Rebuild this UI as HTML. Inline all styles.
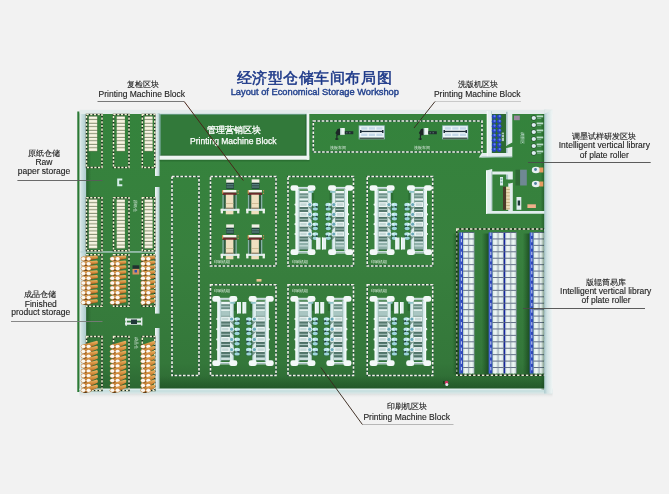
<!DOCTYPE html>
<html><head><meta charset="utf-8">
<style>
html,body{margin:0;padding:0;background:#f2f2f2;width:669px;height:494px;overflow:hidden}
svg{display:block;font-family:"Liberation Sans",sans-serif;will-change:transform}
</style></head><body>
<svg width="669" height="494" viewBox="0 0 669 494">
<defs>
 <linearGradient id="floor" x1="0" y1="0" x2="0" y2="1">
  <stop offset="0" stop-color="#34833c"/>
  <stop offset="0.5" stop-color="#38803e"/>
  <stop offset="0.9" stop-color="#34773a"/>
  <stop offset="1" stop-color="#2b6631"/>
 </linearGradient>
 <linearGradient id="rwall" x1="0" y1="0" x2="1" y2="0">
  <stop offset="0" stop-color="#a9c8cc"/>
  <stop offset="0.35" stop-color="#d2e3e4"/>
  <stop offset="1" stop-color="#f0f5f5"/>
 </linearGradient>
 <linearGradient id="lwall" x1="0" y1="0" x2="1" y2="0">
  <stop offset="0" stop-color="#eef3f3"/>
  <stop offset="0.25" stop-color="#cfe2e3"/>
  <stop offset="1" stop-color="#aecbce"/>
 </linearGradient>
 <linearGradient id="vwall" x1="0" y1="0" x2="1" y2="0">
  <stop offset="0" stop-color="#f2f6f6"/>
  <stop offset="0.5" stop-color="#d6e6e7"/>
  <stop offset="1" stop-color="#a9c6c9"/>
 </linearGradient>
 <linearGradient id="rshadow" x1="0" y1="0" x2="1" y2="0">
  <stop offset="0" stop-color="#1a4a20" stop-opacity="0"/>
  <stop offset="1" stop-color="#143e1a" stop-opacity="0.75"/>
 </linearGradient>
 <linearGradient id="lshadow" x1="0" y1="0" x2="1" y2="0">
  <stop offset="0" stop-color="#143e1a" stop-opacity="0.45"/>
  <stop offset="1" stop-color="#143e1a" stop-opacity="0"/>
 </linearGradient>
 <linearGradient id="bshadow" x1="0" y1="0" x2="0" y2="1">
  <stop offset="0" stop-color="#d8dcdc"/>
  <stop offset="1" stop-color="#f2f2f2" stop-opacity="0"/>
 </linearGradient>
 <linearGradient id="fdark" x1="0" y1="0" x2="0" y2="1">
  <stop offset="0" stop-color="#1a4a20" stop-opacity="0"/>
  <stop offset="1" stop-color="#1a4a20" stop-opacity="0.5"/>
 </linearGradient>
 <linearGradient id="rollo" x1="0" y1="0" x2="0" y2="1">
  <stop offset="0" stop-color="#f0b868"/>
  <stop offset="0.5" stop-color="#cf8838"/>
  <stop offset="1" stop-color="#7a4a1c"/>
 </linearGradient>

</defs>
<rect x="0.00" y="0.00" width="669.00" height="494.00" fill="#f2f2f2" />
<text x="314.4" y="83.3" font-size="15.4" letter-spacing="0.55" fill="#1c3888" stroke="#1c3888" stroke-width="0.5" text-anchor="middle">经济型仓储车间布局图</text>
<text x="314.8" y="95" font-size="9.3" fill="#24438f" stroke="#24438f" stroke-width="0.42" text-anchor="middle">Layout of Economical Storage Workshop</text>
<rect x="79.50" y="113.00" width="466.00" height="278.00" fill="url(#floor)" />
<rect x="77.30" y="111.50" width="2.30" height="280.50" fill="#2c7a35" />
<rect x="79.50" y="109.80" width="473.00" height="4.20" fill="#e3ebeb" />
<rect x="79.50" y="393.50" width="473.00" height="5.00" fill="url(#bshadow)" />
<rect x="159.50" y="376.00" width="385.00" height="12.70" fill="url(#fdark)" />
<rect x="79.50" y="388.70" width="473.00" height="4.80" fill="#c9e0e0" />
<rect x="79.50" y="388.70" width="473.00" height="1.00" fill="#e6f2f2" />
<rect x="79.50" y="392.50" width="473.00" height="1.00" fill="#dde8e8" />
<rect x="79.60" y="114.00" width="6.60" height="276.00" fill="url(#lwall)" />
<rect x="86.20" y="114.00" width="5.00" height="276.00" fill="url(#lshadow)" />
<rect x="80.50" y="251.30" width="75.00" height="1.30" fill="#b9d3d4" />
<rect x="155.00" y="113.00" width="4.60" height="63.00" fill="url(#vwall)" />
<rect x="155.00" y="187.00" width="4.60" height="126.60" fill="url(#vwall)" />
<rect x="155.00" y="328.00" width="4.60" height="61.00" fill="url(#vwall)" />
<rect x="159.50" y="113.80" width="147.50" height="42.00" fill="#8fb8b8" />
<rect x="160.50" y="114.50" width="145.80" height="41.00" fill="#32793a" />
<rect x="160.50" y="154.80" width="145.80" height="1.00" fill="#285f2e" />
<rect x="305.30" y="114.50" width="1.00" height="41.00" fill="#2a6630" />
<rect x="159.50" y="155.70" width="149.70" height="4.10" fill="#eef4f2" />
<rect x="159.50" y="159.80" width="150.00" height="1.60" fill="#1f5a26" opacity="0.45"/>
<rect x="306.80" y="113.00" width="2.50" height="46.80" fill="#eef4f2" />
<text x="233.5" y="133" font-size="8.5" fill="#ffffff" stroke="#ffffff" stroke-width="0.3" text-anchor="middle">管理营销区块</text>
<text x="233.3" y="143.8" font-size="8.5" fill="#ffffff" stroke="#ffffff" stroke-width="0.25" text-anchor="middle">Printing Machine Block</text>
<g fill="none" stroke-width="1.6">
<rect x="313.3" y="121" width="168.7" height="31" stroke="#234a3a" stroke-width="1.4"/>
<rect x="313.3" y="121" width="168.7" height="31" stroke="#f4f4ea" stroke-dasharray="2.6 1.6"/>
<rect x="172" y="176.5" width="27" height="199" stroke="#234a3a" stroke-width="1.4"/>
<rect x="172" y="176.5" width="27" height="199" stroke="#f4f4ea" stroke-dasharray="2.6 1.6"/>
<rect x="210.5" y="176.5" width="65.5" height="89.5" stroke="#234a3a" stroke-width="1.4"/>
<rect x="210.5" y="176.5" width="65.5" height="89.5" stroke="#f4f4ea" stroke-dasharray="2.6 1.6"/>
<rect x="288" y="176.5" width="65.5" height="89.5" stroke="#234a3a" stroke-width="1.4"/>
<rect x="288" y="176.5" width="65.5" height="89.5" stroke="#f4f4ea" stroke-dasharray="2.6 1.6"/>
<rect x="367.2" y="176.5" width="65.5" height="89.5" stroke="#234a3a" stroke-width="1.4"/>
<rect x="367.2" y="176.5" width="65.5" height="89.5" stroke="#f4f4ea" stroke-dasharray="2.6 1.6"/>
<rect x="210.5" y="284.7" width="65.5" height="90.8" stroke="#234a3a" stroke-width="1.4"/>
<rect x="210.5" y="284.7" width="65.5" height="90.8" stroke="#f4f4ea" stroke-dasharray="2.6 1.6"/>
<rect x="288" y="284.7" width="65.5" height="90.8" stroke="#234a3a" stroke-width="1.4"/>
<rect x="288" y="284.7" width="65.5" height="90.8" stroke="#f4f4ea" stroke-dasharray="2.6 1.6"/>
<rect x="367.2" y="284.7" width="65.5" height="90.8" stroke="#234a3a" stroke-width="1.4"/>
<rect x="367.2" y="284.7" width="65.5" height="90.8" stroke="#f4f4ea" stroke-dasharray="2.6 1.6"/>
</g>
<g fill="none" stroke-width="1.5">
<rect x="456.8" y="229" width="88" height="146.3" stroke="#1a2a1a"/><rect x="456.8" y="229" width="88" height="146.3" stroke="#f2f2dc" stroke-dasharray="2.4 2"/>
<rect x="86.5" y="114.5" width="15.5" height="53" stroke="#1a2e1c"/>
<rect x="86.5" y="114.5" width="15.5" height="53" stroke="#f0f0d0" stroke-dasharray="2.2 1.5"/>
<rect x="113.5" y="114.5" width="15.5" height="53" stroke="#1a2e1c"/>
<rect x="113.5" y="114.5" width="15.5" height="53" stroke="#f0f0d0" stroke-dasharray="2.2 1.5"/>
<rect x="142.3" y="114.5" width="12.5" height="53" stroke="#1a2e1c"/>
<rect x="142.3" y="114.5" width="12.5" height="53" stroke="#f0f0d0" stroke-dasharray="2.2 1.5"/>
<rect x="86.5" y="197.7" width="15.5" height="53" stroke="#1a2e1c"/>
<rect x="86.5" y="197.7" width="15.5" height="53" stroke="#f0f0d0" stroke-dasharray="2.2 1.5"/>
<rect x="113.5" y="197.7" width="15.5" height="53" stroke="#1a2e1c"/>
<rect x="113.5" y="197.7" width="15.5" height="53" stroke="#f0f0d0" stroke-dasharray="2.2 1.5"/>
<rect x="142.3" y="197.7" width="12.5" height="53" stroke="#1a2e1c"/>
<rect x="142.3" y="197.7" width="12.5" height="53" stroke="#f0f0d0" stroke-dasharray="2.2 1.5"/>
<rect x="86.5" y="254.8" width="15.5" height="51.5" stroke="#1a2e1c"/>
<rect x="86.5" y="254.8" width="15.5" height="51.5" stroke="#f0f0d0" stroke-dasharray="2.2 1.5"/>
<rect x="113.5" y="254.8" width="15.5" height="51.5" stroke="#1a2e1c"/>
<rect x="113.5" y="254.8" width="15.5" height="51.5" stroke="#f0f0d0" stroke-dasharray="2.2 1.5"/>
<rect x="142.3" y="254.8" width="12.5" height="51.5" stroke="#1a2e1c"/>
<rect x="142.3" y="254.8" width="12.5" height="51.5" stroke="#f0f0d0" stroke-dasharray="2.2 1.5"/>
<rect x="86.5" y="336.5" width="15.5" height="54" stroke="#1a2e1c"/>
<rect x="86.5" y="336.5" width="15.5" height="54" stroke="#f0f0d0" stroke-dasharray="2.2 1.5"/>
<rect x="113.5" y="336.5" width="15.5" height="54" stroke="#1a2e1c"/>
<rect x="113.5" y="336.5" width="15.5" height="54" stroke="#f0f0d0" stroke-dasharray="2.2 1.5"/>
<rect x="142.3" y="336.5" width="12.5" height="54" stroke="#1a2e1c"/>
<rect x="142.3" y="336.5" width="12.5" height="54" stroke="#f0f0d0" stroke-dasharray="2.2 1.5"/>
</g>
<rect x="88.80" y="116.20" width="8.40" height="35.20" fill="#5a6a50" />
<rect x="88.80" y="116.50" width="8.40" height="2.90" fill="#e9e6cc" />
<rect x="89.30" y="117.00" width="7.40" height="1.20" fill="#f8f7ea" />
<rect x="88.80" y="120.02" width="8.40" height="2.90" fill="#e9e6cc" />
<rect x="89.30" y="120.52" width="7.40" height="1.20" fill="#f8f7ea" />
<rect x="88.80" y="123.54" width="8.40" height="2.90" fill="#e9e6cc" />
<rect x="89.30" y="124.04" width="7.40" height="1.20" fill="#f8f7ea" />
<rect x="88.80" y="127.06" width="8.40" height="2.90" fill="#e9e6cc" />
<rect x="89.30" y="127.56" width="7.40" height="1.20" fill="#f8f7ea" />
<rect x="88.80" y="130.58" width="8.40" height="2.90" fill="#e9e6cc" />
<rect x="89.30" y="131.08" width="7.40" height="1.20" fill="#f8f7ea" />
<rect x="88.80" y="134.10" width="8.40" height="2.90" fill="#e9e6cc" />
<rect x="89.30" y="134.60" width="7.40" height="1.20" fill="#f8f7ea" />
<rect x="88.80" y="137.62" width="8.40" height="2.90" fill="#e9e6cc" />
<rect x="89.30" y="138.12" width="7.40" height="1.20" fill="#f8f7ea" />
<rect x="88.80" y="141.14" width="8.40" height="2.90" fill="#e9e6cc" />
<rect x="89.30" y="141.64" width="7.40" height="1.20" fill="#f8f7ea" />
<rect x="88.80" y="144.66" width="8.40" height="2.90" fill="#e9e6cc" />
<rect x="89.30" y="145.16" width="7.40" height="1.20" fill="#f8f7ea" />
<rect x="88.80" y="148.18" width="8.40" height="2.90" fill="#e9e6cc" />
<rect x="89.30" y="148.68" width="7.40" height="1.20" fill="#f8f7ea" />
<rect x="116.70" y="116.20" width="8.20" height="35.20" fill="#5a6a50" />
<rect x="116.70" y="116.50" width="8.20" height="2.90" fill="#e9e6cc" />
<rect x="117.20" y="117.00" width="7.20" height="1.20" fill="#f8f7ea" />
<rect x="116.70" y="120.02" width="8.20" height="2.90" fill="#e9e6cc" />
<rect x="117.20" y="120.52" width="7.20" height="1.20" fill="#f8f7ea" />
<rect x="116.70" y="123.54" width="8.20" height="2.90" fill="#e9e6cc" />
<rect x="117.20" y="124.04" width="7.20" height="1.20" fill="#f8f7ea" />
<rect x="116.70" y="127.06" width="8.20" height="2.90" fill="#e9e6cc" />
<rect x="117.20" y="127.56" width="7.20" height="1.20" fill="#f8f7ea" />
<rect x="116.70" y="130.58" width="8.20" height="2.90" fill="#e9e6cc" />
<rect x="117.20" y="131.08" width="7.20" height="1.20" fill="#f8f7ea" />
<rect x="116.70" y="134.10" width="8.20" height="2.90" fill="#e9e6cc" />
<rect x="117.20" y="134.60" width="7.20" height="1.20" fill="#f8f7ea" />
<rect x="116.70" y="137.62" width="8.20" height="2.90" fill="#e9e6cc" />
<rect x="117.20" y="138.12" width="7.20" height="1.20" fill="#f8f7ea" />
<rect x="116.70" y="141.14" width="8.20" height="2.90" fill="#e9e6cc" />
<rect x="117.20" y="141.64" width="7.20" height="1.20" fill="#f8f7ea" />
<rect x="116.70" y="144.66" width="8.20" height="2.90" fill="#e9e6cc" />
<rect x="117.20" y="145.16" width="7.20" height="1.20" fill="#f8f7ea" />
<rect x="116.70" y="148.18" width="8.20" height="2.90" fill="#e9e6cc" />
<rect x="117.20" y="148.68" width="7.20" height="1.20" fill="#f8f7ea" />
<rect x="144.60" y="116.20" width="8.00" height="35.20" fill="#5a6a50" />
<rect x="144.60" y="116.50" width="8.00" height="2.90" fill="#e9e6cc" />
<rect x="145.10" y="117.00" width="7.00" height="1.20" fill="#f8f7ea" />
<rect x="144.60" y="120.02" width="8.00" height="2.90" fill="#e9e6cc" />
<rect x="145.10" y="120.52" width="7.00" height="1.20" fill="#f8f7ea" />
<rect x="144.60" y="123.54" width="8.00" height="2.90" fill="#e9e6cc" />
<rect x="145.10" y="124.04" width="7.00" height="1.20" fill="#f8f7ea" />
<rect x="144.60" y="127.06" width="8.00" height="2.90" fill="#e9e6cc" />
<rect x="145.10" y="127.56" width="7.00" height="1.20" fill="#f8f7ea" />
<rect x="144.60" y="130.58" width="8.00" height="2.90" fill="#e9e6cc" />
<rect x="145.10" y="131.08" width="7.00" height="1.20" fill="#f8f7ea" />
<rect x="144.60" y="134.10" width="8.00" height="2.90" fill="#e9e6cc" />
<rect x="145.10" y="134.60" width="7.00" height="1.20" fill="#f8f7ea" />
<rect x="144.60" y="137.62" width="8.00" height="2.90" fill="#e9e6cc" />
<rect x="145.10" y="138.12" width="7.00" height="1.20" fill="#f8f7ea" />
<rect x="144.60" y="141.14" width="8.00" height="2.90" fill="#e9e6cc" />
<rect x="145.10" y="141.64" width="7.00" height="1.20" fill="#f8f7ea" />
<rect x="144.60" y="144.66" width="8.00" height="2.90" fill="#e9e6cc" />
<rect x="145.10" y="145.16" width="7.00" height="1.20" fill="#f8f7ea" />
<rect x="144.60" y="148.18" width="8.00" height="2.90" fill="#e9e6cc" />
<rect x="145.10" y="148.68" width="7.00" height="1.20" fill="#f8f7ea" />
<rect x="88.80" y="199.30" width="8.40" height="49.28" fill="#5a6a50" />
<rect x="88.80" y="199.60" width="8.40" height="2.90" fill="#e9e6cc" />
<rect x="89.30" y="200.10" width="7.40" height="1.20" fill="#f8f7ea" />
<rect x="88.80" y="203.12" width="8.40" height="2.90" fill="#e9e6cc" />
<rect x="89.30" y="203.62" width="7.40" height="1.20" fill="#f8f7ea" />
<rect x="88.80" y="206.64" width="8.40" height="2.90" fill="#e9e6cc" />
<rect x="89.30" y="207.14" width="7.40" height="1.20" fill="#f8f7ea" />
<rect x="88.80" y="210.16" width="8.40" height="2.90" fill="#e9e6cc" />
<rect x="89.30" y="210.66" width="7.40" height="1.20" fill="#f8f7ea" />
<rect x="88.80" y="213.68" width="8.40" height="2.90" fill="#e9e6cc" />
<rect x="89.30" y="214.18" width="7.40" height="1.20" fill="#f8f7ea" />
<rect x="88.80" y="217.20" width="8.40" height="2.90" fill="#e9e6cc" />
<rect x="89.30" y="217.70" width="7.40" height="1.20" fill="#f8f7ea" />
<rect x="88.80" y="220.72" width="8.40" height="2.90" fill="#e9e6cc" />
<rect x="89.30" y="221.22" width="7.40" height="1.20" fill="#f8f7ea" />
<rect x="88.80" y="224.24" width="8.40" height="2.90" fill="#e9e6cc" />
<rect x="89.30" y="224.74" width="7.40" height="1.20" fill="#f8f7ea" />
<rect x="88.80" y="227.76" width="8.40" height="2.90" fill="#e9e6cc" />
<rect x="89.30" y="228.26" width="7.40" height="1.20" fill="#f8f7ea" />
<rect x="88.80" y="231.28" width="8.40" height="2.90" fill="#e9e6cc" />
<rect x="89.30" y="231.78" width="7.40" height="1.20" fill="#f8f7ea" />
<rect x="88.80" y="234.80" width="8.40" height="2.90" fill="#e9e6cc" />
<rect x="89.30" y="235.30" width="7.40" height="1.20" fill="#f8f7ea" />
<rect x="88.80" y="238.32" width="8.40" height="2.90" fill="#e9e6cc" />
<rect x="89.30" y="238.82" width="7.40" height="1.20" fill="#f8f7ea" />
<rect x="88.80" y="241.84" width="8.40" height="2.90" fill="#e9e6cc" />
<rect x="89.30" y="242.34" width="7.40" height="1.20" fill="#f8f7ea" />
<rect x="88.80" y="245.36" width="8.40" height="2.90" fill="#e9e6cc" />
<rect x="89.30" y="245.86" width="7.40" height="1.20" fill="#f8f7ea" />
<rect x="116.70" y="199.30" width="8.20" height="49.28" fill="#5a6a50" />
<rect x="116.70" y="199.60" width="8.20" height="2.90" fill="#e9e6cc" />
<rect x="117.20" y="200.10" width="7.20" height="1.20" fill="#f8f7ea" />
<rect x="116.70" y="203.12" width="8.20" height="2.90" fill="#e9e6cc" />
<rect x="117.20" y="203.62" width="7.20" height="1.20" fill="#f8f7ea" />
<rect x="116.70" y="206.64" width="8.20" height="2.90" fill="#e9e6cc" />
<rect x="117.20" y="207.14" width="7.20" height="1.20" fill="#f8f7ea" />
<rect x="116.70" y="210.16" width="8.20" height="2.90" fill="#e9e6cc" />
<rect x="117.20" y="210.66" width="7.20" height="1.20" fill="#f8f7ea" />
<rect x="116.70" y="213.68" width="8.20" height="2.90" fill="#e9e6cc" />
<rect x="117.20" y="214.18" width="7.20" height="1.20" fill="#f8f7ea" />
<rect x="116.70" y="217.20" width="8.20" height="2.90" fill="#e9e6cc" />
<rect x="117.20" y="217.70" width="7.20" height="1.20" fill="#f8f7ea" />
<rect x="116.70" y="220.72" width="8.20" height="2.90" fill="#e9e6cc" />
<rect x="117.20" y="221.22" width="7.20" height="1.20" fill="#f8f7ea" />
<rect x="116.70" y="224.24" width="8.20" height="2.90" fill="#e9e6cc" />
<rect x="117.20" y="224.74" width="7.20" height="1.20" fill="#f8f7ea" />
<rect x="116.70" y="227.76" width="8.20" height="2.90" fill="#e9e6cc" />
<rect x="117.20" y="228.26" width="7.20" height="1.20" fill="#f8f7ea" />
<rect x="116.70" y="231.28" width="8.20" height="2.90" fill="#e9e6cc" />
<rect x="117.20" y="231.78" width="7.20" height="1.20" fill="#f8f7ea" />
<rect x="116.70" y="234.80" width="8.20" height="2.90" fill="#e9e6cc" />
<rect x="117.20" y="235.30" width="7.20" height="1.20" fill="#f8f7ea" />
<rect x="116.70" y="238.32" width="8.20" height="2.90" fill="#e9e6cc" />
<rect x="117.20" y="238.82" width="7.20" height="1.20" fill="#f8f7ea" />
<rect x="116.70" y="241.84" width="8.20" height="2.90" fill="#e9e6cc" />
<rect x="117.20" y="242.34" width="7.20" height="1.20" fill="#f8f7ea" />
<rect x="116.70" y="245.36" width="8.20" height="2.90" fill="#e9e6cc" />
<rect x="117.20" y="245.86" width="7.20" height="1.20" fill="#f8f7ea" />
<rect x="144.60" y="199.30" width="8.00" height="49.28" fill="#5a6a50" />
<rect x="144.60" y="199.60" width="8.00" height="2.90" fill="#e9e6cc" />
<rect x="145.10" y="200.10" width="7.00" height="1.20" fill="#f8f7ea" />
<rect x="144.60" y="203.12" width="8.00" height="2.90" fill="#e9e6cc" />
<rect x="145.10" y="203.62" width="7.00" height="1.20" fill="#f8f7ea" />
<rect x="144.60" y="206.64" width="8.00" height="2.90" fill="#e9e6cc" />
<rect x="145.10" y="207.14" width="7.00" height="1.20" fill="#f8f7ea" />
<rect x="144.60" y="210.16" width="8.00" height="2.90" fill="#e9e6cc" />
<rect x="145.10" y="210.66" width="7.00" height="1.20" fill="#f8f7ea" />
<rect x="144.60" y="213.68" width="8.00" height="2.90" fill="#e9e6cc" />
<rect x="145.10" y="214.18" width="7.00" height="1.20" fill="#f8f7ea" />
<rect x="144.60" y="217.20" width="8.00" height="2.90" fill="#e9e6cc" />
<rect x="145.10" y="217.70" width="7.00" height="1.20" fill="#f8f7ea" />
<rect x="144.60" y="220.72" width="8.00" height="2.90" fill="#e9e6cc" />
<rect x="145.10" y="221.22" width="7.00" height="1.20" fill="#f8f7ea" />
<rect x="144.60" y="224.24" width="8.00" height="2.90" fill="#e9e6cc" />
<rect x="145.10" y="224.74" width="7.00" height="1.20" fill="#f8f7ea" />
<rect x="144.60" y="227.76" width="8.00" height="2.90" fill="#e9e6cc" />
<rect x="145.10" y="228.26" width="7.00" height="1.20" fill="#f8f7ea" />
<rect x="144.60" y="231.28" width="8.00" height="2.90" fill="#e9e6cc" />
<rect x="145.10" y="231.78" width="7.00" height="1.20" fill="#f8f7ea" />
<rect x="144.60" y="234.80" width="8.00" height="2.90" fill="#e9e6cc" />
<rect x="145.10" y="235.30" width="7.00" height="1.20" fill="#f8f7ea" />
<rect x="144.60" y="238.32" width="8.00" height="2.90" fill="#e9e6cc" />
<rect x="145.10" y="238.82" width="7.00" height="1.20" fill="#f8f7ea" />
<rect x="144.60" y="241.84" width="8.00" height="2.90" fill="#e9e6cc" />
<rect x="145.10" y="242.34" width="7.00" height="1.20" fill="#f8f7ea" />
<rect x="144.60" y="245.36" width="8.00" height="2.90" fill="#e9e6cc" />
<rect x="145.10" y="245.86" width="7.00" height="1.20" fill="#f8f7ea" />
<polygon points="83.3,259.8 97.8,257.6 97.8,258.4 86.3,261.4 83.3,261.4" fill="#5a3c1a"/>
<polygon points="83.3,256.6 97.0,255.6 97.8,256.4 97.8,258.6 88.3,260.6 83.3,260.6" fill="url(#rollo)"/>
<ellipse cx="83.3" cy="258.8" rx="2.6" ry="2.2" fill="#c88440"/>
<ellipse cx="88.6" cy="258.8" rx="2.6" ry="2.2" fill="#c88440"/>
<ellipse cx="83.3" cy="258.8" rx="2.1" ry="1.75" fill="#faf8f2"/>
<ellipse cx="88.6" cy="258.8" rx="2.1" ry="1.75" fill="#faf8f2"/>
<polygon points="83.3,264.7 97.8,262.5 97.8,263.3 86.3,266.3 83.3,266.3" fill="#5a3c1a"/>
<polygon points="83.3,261.5 97.0,260.5 97.8,261.3 97.8,263.5 88.3,265.5 83.3,265.5" fill="url(#rollo)"/>
<ellipse cx="83.3" cy="263.7" rx="2.6" ry="2.2" fill="#c88440"/>
<ellipse cx="88.6" cy="263.7" rx="2.6" ry="2.2" fill="#c88440"/>
<ellipse cx="83.3" cy="263.7" rx="2.1" ry="1.75" fill="#faf8f2"/>
<ellipse cx="88.6" cy="263.7" rx="2.1" ry="1.75" fill="#faf8f2"/>
<polygon points="83.3,269.5 97.8,267.3 97.8,268.1 86.3,271.1 83.3,271.1" fill="#5a3c1a"/>
<polygon points="83.3,266.3 97.0,265.3 97.8,266.1 97.8,268.3 88.3,270.3 83.3,270.3" fill="url(#rollo)"/>
<ellipse cx="83.3" cy="268.5" rx="2.6" ry="2.2" fill="#c88440"/>
<ellipse cx="88.6" cy="268.5" rx="2.6" ry="2.2" fill="#c88440"/>
<ellipse cx="83.3" cy="268.5" rx="2.1" ry="1.75" fill="#faf8f2"/>
<ellipse cx="88.6" cy="268.5" rx="2.1" ry="1.75" fill="#faf8f2"/>
<polygon points="83.3,274.4 97.8,272.2 97.8,273.0 86.3,276.0 83.3,276.0" fill="#5a3c1a"/>
<polygon points="83.3,271.2 97.0,270.2 97.8,271.0 97.8,273.2 88.3,275.2 83.3,275.2" fill="url(#rollo)"/>
<ellipse cx="83.3" cy="273.4" rx="2.6" ry="2.2" fill="#c88440"/>
<ellipse cx="88.6" cy="273.4" rx="2.6" ry="2.2" fill="#c88440"/>
<ellipse cx="83.3" cy="273.4" rx="2.1" ry="1.75" fill="#faf8f2"/>
<ellipse cx="88.6" cy="273.4" rx="2.1" ry="1.75" fill="#faf8f2"/>
<polygon points="83.3,279.2 97.8,277.0 97.8,277.8 86.3,280.8 83.3,280.8" fill="#5a3c1a"/>
<polygon points="83.3,276.0 97.0,275.0 97.8,275.8 97.8,278.0 88.3,280.0 83.3,280.0" fill="url(#rollo)"/>
<ellipse cx="83.3" cy="278.2" rx="2.6" ry="2.2" fill="#c88440"/>
<ellipse cx="88.6" cy="278.2" rx="2.6" ry="2.2" fill="#c88440"/>
<ellipse cx="83.3" cy="278.2" rx="2.1" ry="1.75" fill="#faf8f2"/>
<ellipse cx="88.6" cy="278.2" rx="2.1" ry="1.75" fill="#faf8f2"/>
<polygon points="83.3,284.1 97.8,281.9 97.8,282.7 86.3,285.7 83.3,285.7" fill="#5a3c1a"/>
<polygon points="83.3,280.9 97.0,279.9 97.8,280.7 97.8,282.9 88.3,284.9 83.3,284.9" fill="url(#rollo)"/>
<ellipse cx="83.3" cy="283.1" rx="2.6" ry="2.2" fill="#c88440"/>
<ellipse cx="88.6" cy="283.1" rx="2.6" ry="2.2" fill="#c88440"/>
<ellipse cx="83.3" cy="283.1" rx="2.1" ry="1.75" fill="#faf8f2"/>
<ellipse cx="88.6" cy="283.1" rx="2.1" ry="1.75" fill="#faf8f2"/>
<polygon points="83.3,288.9 97.8,286.7 97.8,287.5 86.3,290.5 83.3,290.5" fill="#5a3c1a"/>
<polygon points="83.3,285.7 97.0,284.7 97.8,285.5 97.8,287.7 88.3,289.7 83.3,289.7" fill="url(#rollo)"/>
<ellipse cx="83.3" cy="287.9" rx="2.6" ry="2.2" fill="#c88440"/>
<ellipse cx="88.6" cy="287.9" rx="2.6" ry="2.2" fill="#c88440"/>
<ellipse cx="83.3" cy="287.9" rx="2.1" ry="1.75" fill="#faf8f2"/>
<ellipse cx="88.6" cy="287.9" rx="2.1" ry="1.75" fill="#faf8f2"/>
<polygon points="83.3,293.8 97.8,291.6 97.8,292.4 86.3,295.4 83.3,295.4" fill="#5a3c1a"/>
<polygon points="83.3,290.6 97.0,289.6 97.8,290.4 97.8,292.6 88.3,294.6 83.3,294.6" fill="url(#rollo)"/>
<ellipse cx="83.3" cy="292.8" rx="2.6" ry="2.2" fill="#c88440"/>
<ellipse cx="88.6" cy="292.8" rx="2.6" ry="2.2" fill="#c88440"/>
<ellipse cx="83.3" cy="292.8" rx="2.1" ry="1.75" fill="#faf8f2"/>
<ellipse cx="88.6" cy="292.8" rx="2.1" ry="1.75" fill="#faf8f2"/>
<polygon points="83.3,298.6 97.8,296.4 97.8,297.2 86.3,300.2 83.3,300.2" fill="#5a3c1a"/>
<polygon points="83.3,295.4 97.0,294.4 97.8,295.2 97.8,297.4 88.3,299.4 83.3,299.4" fill="url(#rollo)"/>
<ellipse cx="83.3" cy="297.6" rx="2.6" ry="2.2" fill="#c88440"/>
<ellipse cx="88.6" cy="297.6" rx="2.6" ry="2.2" fill="#c88440"/>
<ellipse cx="83.3" cy="297.6" rx="2.1" ry="1.75" fill="#faf8f2"/>
<ellipse cx="88.6" cy="297.6" rx="2.1" ry="1.75" fill="#faf8f2"/>
<polygon points="83.3,303.4 97.8,301.2 97.8,302.1 86.3,305.1 83.3,305.1" fill="#5a3c1a"/>
<polygon points="83.3,300.2 97.0,299.2 97.8,300.1 97.8,302.2 88.3,304.2 83.3,304.2" fill="url(#rollo)"/>
<ellipse cx="83.3" cy="302.4" rx="2.6" ry="2.2" fill="#c88440"/>
<ellipse cx="88.6" cy="302.4" rx="2.6" ry="2.2" fill="#c88440"/>
<ellipse cx="83.3" cy="302.4" rx="2.1" ry="1.75" fill="#faf8f2"/>
<ellipse cx="88.6" cy="302.4" rx="2.1" ry="1.75" fill="#faf8f2"/>
<polygon points="112.3,259.8 126.2,257.6 126.2,258.4 115.3,261.4 112.3,261.4" fill="#5a3c1a"/>
<polygon points="112.3,256.6 125.4,255.6 126.2,256.4 126.2,258.6 117.3,260.6 112.3,260.6" fill="url(#rollo)"/>
<ellipse cx="112.3" cy="258.8" rx="2.6" ry="2.2" fill="#c88440"/>
<ellipse cx="117.6" cy="258.8" rx="2.6" ry="2.2" fill="#c88440"/>
<ellipse cx="112.3" cy="258.8" rx="2.1" ry="1.75" fill="#faf8f2"/>
<ellipse cx="117.6" cy="258.8" rx="2.1" ry="1.75" fill="#faf8f2"/>
<polygon points="112.3,264.7 126.2,262.5 126.2,263.3 115.3,266.3 112.3,266.3" fill="#5a3c1a"/>
<polygon points="112.3,261.5 125.4,260.5 126.2,261.3 126.2,263.5 117.3,265.5 112.3,265.5" fill="url(#rollo)"/>
<ellipse cx="112.3" cy="263.7" rx="2.6" ry="2.2" fill="#c88440"/>
<ellipse cx="117.6" cy="263.7" rx="2.6" ry="2.2" fill="#c88440"/>
<ellipse cx="112.3" cy="263.7" rx="2.1" ry="1.75" fill="#faf8f2"/>
<ellipse cx="117.6" cy="263.7" rx="2.1" ry="1.75" fill="#faf8f2"/>
<polygon points="112.3,269.5 126.2,267.3 126.2,268.1 115.3,271.1 112.3,271.1" fill="#5a3c1a"/>
<polygon points="112.3,266.3 125.4,265.3 126.2,266.1 126.2,268.3 117.3,270.3 112.3,270.3" fill="url(#rollo)"/>
<ellipse cx="112.3" cy="268.5" rx="2.6" ry="2.2" fill="#c88440"/>
<ellipse cx="117.6" cy="268.5" rx="2.6" ry="2.2" fill="#c88440"/>
<ellipse cx="112.3" cy="268.5" rx="2.1" ry="1.75" fill="#faf8f2"/>
<ellipse cx="117.6" cy="268.5" rx="2.1" ry="1.75" fill="#faf8f2"/>
<polygon points="112.3,274.4 126.2,272.2 126.2,273.0 115.3,276.0 112.3,276.0" fill="#5a3c1a"/>
<polygon points="112.3,271.2 125.4,270.2 126.2,271.0 126.2,273.2 117.3,275.2 112.3,275.2" fill="url(#rollo)"/>
<ellipse cx="112.3" cy="273.4" rx="2.6" ry="2.2" fill="#c88440"/>
<ellipse cx="117.6" cy="273.4" rx="2.6" ry="2.2" fill="#c88440"/>
<ellipse cx="112.3" cy="273.4" rx="2.1" ry="1.75" fill="#faf8f2"/>
<ellipse cx="117.6" cy="273.4" rx="2.1" ry="1.75" fill="#faf8f2"/>
<polygon points="112.3,279.2 126.2,277.0 126.2,277.8 115.3,280.8 112.3,280.8" fill="#5a3c1a"/>
<polygon points="112.3,276.0 125.4,275.0 126.2,275.8 126.2,278.0 117.3,280.0 112.3,280.0" fill="url(#rollo)"/>
<ellipse cx="112.3" cy="278.2" rx="2.6" ry="2.2" fill="#c88440"/>
<ellipse cx="117.6" cy="278.2" rx="2.6" ry="2.2" fill="#c88440"/>
<ellipse cx="112.3" cy="278.2" rx="2.1" ry="1.75" fill="#faf8f2"/>
<ellipse cx="117.6" cy="278.2" rx="2.1" ry="1.75" fill="#faf8f2"/>
<polygon points="112.3,284.1 126.2,281.9 126.2,282.7 115.3,285.7 112.3,285.7" fill="#5a3c1a"/>
<polygon points="112.3,280.9 125.4,279.9 126.2,280.7 126.2,282.9 117.3,284.9 112.3,284.9" fill="url(#rollo)"/>
<ellipse cx="112.3" cy="283.1" rx="2.6" ry="2.2" fill="#c88440"/>
<ellipse cx="117.6" cy="283.1" rx="2.6" ry="2.2" fill="#c88440"/>
<ellipse cx="112.3" cy="283.1" rx="2.1" ry="1.75" fill="#faf8f2"/>
<ellipse cx="117.6" cy="283.1" rx="2.1" ry="1.75" fill="#faf8f2"/>
<polygon points="112.3,288.9 126.2,286.7 126.2,287.5 115.3,290.5 112.3,290.5" fill="#5a3c1a"/>
<polygon points="112.3,285.7 125.4,284.7 126.2,285.5 126.2,287.7 117.3,289.7 112.3,289.7" fill="url(#rollo)"/>
<ellipse cx="112.3" cy="287.9" rx="2.6" ry="2.2" fill="#c88440"/>
<ellipse cx="117.6" cy="287.9" rx="2.6" ry="2.2" fill="#c88440"/>
<ellipse cx="112.3" cy="287.9" rx="2.1" ry="1.75" fill="#faf8f2"/>
<ellipse cx="117.6" cy="287.9" rx="2.1" ry="1.75" fill="#faf8f2"/>
<polygon points="112.3,293.8 126.2,291.6 126.2,292.4 115.3,295.4 112.3,295.4" fill="#5a3c1a"/>
<polygon points="112.3,290.6 125.4,289.6 126.2,290.4 126.2,292.6 117.3,294.6 112.3,294.6" fill="url(#rollo)"/>
<ellipse cx="112.3" cy="292.8" rx="2.6" ry="2.2" fill="#c88440"/>
<ellipse cx="117.6" cy="292.8" rx="2.6" ry="2.2" fill="#c88440"/>
<ellipse cx="112.3" cy="292.8" rx="2.1" ry="1.75" fill="#faf8f2"/>
<ellipse cx="117.6" cy="292.8" rx="2.1" ry="1.75" fill="#faf8f2"/>
<polygon points="112.3,298.6 126.2,296.4 126.2,297.2 115.3,300.2 112.3,300.2" fill="#5a3c1a"/>
<polygon points="112.3,295.4 125.4,294.4 126.2,295.2 126.2,297.4 117.3,299.4 112.3,299.4" fill="url(#rollo)"/>
<ellipse cx="112.3" cy="297.6" rx="2.6" ry="2.2" fill="#c88440"/>
<ellipse cx="117.6" cy="297.6" rx="2.6" ry="2.2" fill="#c88440"/>
<ellipse cx="112.3" cy="297.6" rx="2.1" ry="1.75" fill="#faf8f2"/>
<ellipse cx="117.6" cy="297.6" rx="2.1" ry="1.75" fill="#faf8f2"/>
<polygon points="112.3,303.4 126.2,301.2 126.2,302.1 115.3,305.1 112.3,305.1" fill="#5a3c1a"/>
<polygon points="112.3,300.2 125.4,299.2 126.2,300.1 126.2,302.2 117.3,304.2 112.3,304.2" fill="url(#rollo)"/>
<ellipse cx="112.3" cy="302.4" rx="2.6" ry="2.2" fill="#c88440"/>
<ellipse cx="117.6" cy="302.4" rx="2.6" ry="2.2" fill="#c88440"/>
<ellipse cx="112.3" cy="302.4" rx="2.1" ry="1.75" fill="#faf8f2"/>
<ellipse cx="117.6" cy="302.4" rx="2.1" ry="1.75" fill="#faf8f2"/>
<polygon points="143.0,259.8 155.0,257.6 155.0,258.4 146.0,261.4 143.0,261.4" fill="#5a3c1a"/>
<polygon points="143.0,256.6 154.2,255.6 155.0,256.4 155.0,258.6 148.0,260.6 143.0,260.6" fill="url(#rollo)"/>
<ellipse cx="143.0" cy="258.8" rx="2.6" ry="2.2" fill="#c88440"/>
<ellipse cx="148.3" cy="258.8" rx="2.6" ry="2.2" fill="#c88440"/>
<ellipse cx="143.0" cy="258.8" rx="2.1" ry="1.75" fill="#faf8f2"/>
<ellipse cx="148.3" cy="258.8" rx="2.1" ry="1.75" fill="#faf8f2"/>
<polygon points="143.0,264.7 155.0,262.5 155.0,263.3 146.0,266.3 143.0,266.3" fill="#5a3c1a"/>
<polygon points="143.0,261.5 154.2,260.5 155.0,261.3 155.0,263.5 148.0,265.5 143.0,265.5" fill="url(#rollo)"/>
<ellipse cx="143.0" cy="263.7" rx="2.6" ry="2.2" fill="#c88440"/>
<ellipse cx="148.3" cy="263.7" rx="2.6" ry="2.2" fill="#c88440"/>
<ellipse cx="143.0" cy="263.7" rx="2.1" ry="1.75" fill="#faf8f2"/>
<ellipse cx="148.3" cy="263.7" rx="2.1" ry="1.75" fill="#faf8f2"/>
<polygon points="143.0,269.5 155.0,267.3 155.0,268.1 146.0,271.1 143.0,271.1" fill="#5a3c1a"/>
<polygon points="143.0,266.3 154.2,265.3 155.0,266.1 155.0,268.3 148.0,270.3 143.0,270.3" fill="url(#rollo)"/>
<ellipse cx="143.0" cy="268.5" rx="2.6" ry="2.2" fill="#c88440"/>
<ellipse cx="148.3" cy="268.5" rx="2.6" ry="2.2" fill="#c88440"/>
<ellipse cx="143.0" cy="268.5" rx="2.1" ry="1.75" fill="#faf8f2"/>
<ellipse cx="148.3" cy="268.5" rx="2.1" ry="1.75" fill="#faf8f2"/>
<polygon points="143.0,274.4 155.0,272.2 155.0,273.0 146.0,276.0 143.0,276.0" fill="#5a3c1a"/>
<polygon points="143.0,271.2 154.2,270.2 155.0,271.0 155.0,273.2 148.0,275.2 143.0,275.2" fill="url(#rollo)"/>
<ellipse cx="143.0" cy="273.4" rx="2.6" ry="2.2" fill="#c88440"/>
<ellipse cx="148.3" cy="273.4" rx="2.6" ry="2.2" fill="#c88440"/>
<ellipse cx="143.0" cy="273.4" rx="2.1" ry="1.75" fill="#faf8f2"/>
<ellipse cx="148.3" cy="273.4" rx="2.1" ry="1.75" fill="#faf8f2"/>
<polygon points="143.0,279.2 155.0,277.0 155.0,277.8 146.0,280.8 143.0,280.8" fill="#5a3c1a"/>
<polygon points="143.0,276.0 154.2,275.0 155.0,275.8 155.0,278.0 148.0,280.0 143.0,280.0" fill="url(#rollo)"/>
<ellipse cx="143.0" cy="278.2" rx="2.6" ry="2.2" fill="#c88440"/>
<ellipse cx="148.3" cy="278.2" rx="2.6" ry="2.2" fill="#c88440"/>
<ellipse cx="143.0" cy="278.2" rx="2.1" ry="1.75" fill="#faf8f2"/>
<ellipse cx="148.3" cy="278.2" rx="2.1" ry="1.75" fill="#faf8f2"/>
<polygon points="143.0,284.1 155.0,281.9 155.0,282.7 146.0,285.7 143.0,285.7" fill="#5a3c1a"/>
<polygon points="143.0,280.9 154.2,279.9 155.0,280.7 155.0,282.9 148.0,284.9 143.0,284.9" fill="url(#rollo)"/>
<ellipse cx="143.0" cy="283.1" rx="2.6" ry="2.2" fill="#c88440"/>
<ellipse cx="148.3" cy="283.1" rx="2.6" ry="2.2" fill="#c88440"/>
<ellipse cx="143.0" cy="283.1" rx="2.1" ry="1.75" fill="#faf8f2"/>
<ellipse cx="148.3" cy="283.1" rx="2.1" ry="1.75" fill="#faf8f2"/>
<polygon points="143.0,288.9 155.0,286.7 155.0,287.5 146.0,290.5 143.0,290.5" fill="#5a3c1a"/>
<polygon points="143.0,285.7 154.2,284.7 155.0,285.5 155.0,287.7 148.0,289.7 143.0,289.7" fill="url(#rollo)"/>
<ellipse cx="143.0" cy="287.9" rx="2.6" ry="2.2" fill="#c88440"/>
<ellipse cx="148.3" cy="287.9" rx="2.6" ry="2.2" fill="#c88440"/>
<ellipse cx="143.0" cy="287.9" rx="2.1" ry="1.75" fill="#faf8f2"/>
<ellipse cx="148.3" cy="287.9" rx="2.1" ry="1.75" fill="#faf8f2"/>
<polygon points="143.0,293.8 155.0,291.6 155.0,292.4 146.0,295.4 143.0,295.4" fill="#5a3c1a"/>
<polygon points="143.0,290.6 154.2,289.6 155.0,290.4 155.0,292.6 148.0,294.6 143.0,294.6" fill="url(#rollo)"/>
<ellipse cx="143.0" cy="292.8" rx="2.6" ry="2.2" fill="#c88440"/>
<ellipse cx="148.3" cy="292.8" rx="2.6" ry="2.2" fill="#c88440"/>
<ellipse cx="143.0" cy="292.8" rx="2.1" ry="1.75" fill="#faf8f2"/>
<ellipse cx="148.3" cy="292.8" rx="2.1" ry="1.75" fill="#faf8f2"/>
<polygon points="143.0,298.6 155.0,296.4 155.0,297.2 146.0,300.2 143.0,300.2" fill="#5a3c1a"/>
<polygon points="143.0,295.4 154.2,294.4 155.0,295.2 155.0,297.4 148.0,299.4 143.0,299.4" fill="url(#rollo)"/>
<ellipse cx="143.0" cy="297.6" rx="2.6" ry="2.2" fill="#c88440"/>
<ellipse cx="148.3" cy="297.6" rx="2.6" ry="2.2" fill="#c88440"/>
<ellipse cx="143.0" cy="297.6" rx="2.1" ry="1.75" fill="#faf8f2"/>
<ellipse cx="148.3" cy="297.6" rx="2.1" ry="1.75" fill="#faf8f2"/>
<polygon points="143.0,303.4 155.0,301.2 155.0,302.1 146.0,305.1 143.0,305.1" fill="#5a3c1a"/>
<polygon points="143.0,300.2 154.2,299.2 155.0,300.1 155.0,302.2 148.0,304.2 143.0,304.2" fill="url(#rollo)"/>
<ellipse cx="143.0" cy="302.4" rx="2.6" ry="2.2" fill="#c88440"/>
<ellipse cx="148.3" cy="302.4" rx="2.6" ry="2.2" fill="#c88440"/>
<ellipse cx="143.0" cy="302.4" rx="2.1" ry="1.75" fill="#faf8f2"/>
<ellipse cx="148.3" cy="302.4" rx="2.1" ry="1.75" fill="#faf8f2"/>
<polygon points="83.3,347.6 97.8,342.8 97.8,343.6 86.3,349.2 83.3,349.2" fill="#5a3c1a"/>
<polygon points="83.3,344.4 97.0,340.8 97.8,341.6 97.8,343.8 88.3,348.4 83.3,348.4" fill="url(#rollo)"/>
<ellipse cx="83.3" cy="346.6" rx="2.6" ry="2.2" fill="#c88440"/>
<ellipse cx="88.6" cy="346.6" rx="2.6" ry="2.2" fill="#c88440"/>
<ellipse cx="83.3" cy="346.6" rx="2.1" ry="1.75" fill="#faf8f2"/>
<ellipse cx="88.6" cy="346.6" rx="2.1" ry="1.75" fill="#faf8f2"/>
<polygon points="83.3,352.5 97.8,347.7 97.8,348.5 86.3,354.1 83.3,354.1" fill="#5a3c1a"/>
<polygon points="83.3,349.3 97.0,345.7 97.8,346.5 97.8,348.7 88.3,353.3 83.3,353.3" fill="url(#rollo)"/>
<ellipse cx="83.3" cy="351.5" rx="2.6" ry="2.2" fill="#c88440"/>
<ellipse cx="88.6" cy="351.5" rx="2.6" ry="2.2" fill="#c88440"/>
<ellipse cx="83.3" cy="351.5" rx="2.1" ry="1.75" fill="#faf8f2"/>
<ellipse cx="88.6" cy="351.5" rx="2.1" ry="1.75" fill="#faf8f2"/>
<polygon points="83.3,357.3 97.8,352.5 97.8,353.3 86.3,358.9 83.3,358.9" fill="#5a3c1a"/>
<polygon points="83.3,354.1 97.0,350.5 97.8,351.3 97.8,353.5 88.3,358.1 83.3,358.1" fill="url(#rollo)"/>
<ellipse cx="83.3" cy="356.3" rx="2.6" ry="2.2" fill="#c88440"/>
<ellipse cx="88.6" cy="356.3" rx="2.6" ry="2.2" fill="#c88440"/>
<ellipse cx="83.3" cy="356.3" rx="2.1" ry="1.75" fill="#faf8f2"/>
<ellipse cx="88.6" cy="356.3" rx="2.1" ry="1.75" fill="#faf8f2"/>
<polygon points="83.3,362.2 97.8,357.4 97.8,358.2 86.3,363.8 83.3,363.8" fill="#5a3c1a"/>
<polygon points="83.3,359.0 97.0,355.4 97.8,356.2 97.8,358.4 88.3,363.0 83.3,363.0" fill="url(#rollo)"/>
<ellipse cx="83.3" cy="361.2" rx="2.6" ry="2.2" fill="#c88440"/>
<ellipse cx="88.6" cy="361.2" rx="2.6" ry="2.2" fill="#c88440"/>
<ellipse cx="83.3" cy="361.2" rx="2.1" ry="1.75" fill="#faf8f2"/>
<ellipse cx="88.6" cy="361.2" rx="2.1" ry="1.75" fill="#faf8f2"/>
<polygon points="83.3,367.0 97.8,362.2 97.8,363.0 86.3,368.6 83.3,368.6" fill="#5a3c1a"/>
<polygon points="83.3,363.8 97.0,360.2 97.8,361.0 97.8,363.2 88.3,367.8 83.3,367.8" fill="url(#rollo)"/>
<ellipse cx="83.3" cy="366.0" rx="2.6" ry="2.2" fill="#c88440"/>
<ellipse cx="88.6" cy="366.0" rx="2.6" ry="2.2" fill="#c88440"/>
<ellipse cx="83.3" cy="366.0" rx="2.1" ry="1.75" fill="#faf8f2"/>
<ellipse cx="88.6" cy="366.0" rx="2.1" ry="1.75" fill="#faf8f2"/>
<polygon points="83.3,371.9 97.8,367.1 97.8,367.9 86.3,373.5 83.3,373.5" fill="#5a3c1a"/>
<polygon points="83.3,368.7 97.0,365.1 97.8,365.9 97.8,368.1 88.3,372.7 83.3,372.7" fill="url(#rollo)"/>
<ellipse cx="83.3" cy="370.9" rx="2.6" ry="2.2" fill="#c88440"/>
<ellipse cx="88.6" cy="370.9" rx="2.6" ry="2.2" fill="#c88440"/>
<ellipse cx="83.3" cy="370.9" rx="2.1" ry="1.75" fill="#faf8f2"/>
<ellipse cx="88.6" cy="370.9" rx="2.1" ry="1.75" fill="#faf8f2"/>
<polygon points="83.3,376.7 97.8,371.9 97.8,372.7 86.3,378.3 83.3,378.3" fill="#5a3c1a"/>
<polygon points="83.3,373.5 97.0,369.9 97.8,370.7 97.8,372.9 88.3,377.5 83.3,377.5" fill="url(#rollo)"/>
<ellipse cx="83.3" cy="375.7" rx="2.6" ry="2.2" fill="#c88440"/>
<ellipse cx="88.6" cy="375.7" rx="2.6" ry="2.2" fill="#c88440"/>
<ellipse cx="83.3" cy="375.7" rx="2.1" ry="1.75" fill="#faf8f2"/>
<ellipse cx="88.6" cy="375.7" rx="2.1" ry="1.75" fill="#faf8f2"/>
<polygon points="83.3,381.6 97.8,376.8 97.8,377.6 86.3,383.2 83.3,383.2" fill="#5a3c1a"/>
<polygon points="83.3,378.4 97.0,374.8 97.8,375.6 97.8,377.8 88.3,382.4 83.3,382.4" fill="url(#rollo)"/>
<ellipse cx="83.3" cy="380.6" rx="2.6" ry="2.2" fill="#c88440"/>
<ellipse cx="88.6" cy="380.6" rx="2.6" ry="2.2" fill="#c88440"/>
<ellipse cx="83.3" cy="380.6" rx="2.1" ry="1.75" fill="#faf8f2"/>
<ellipse cx="88.6" cy="380.6" rx="2.1" ry="1.75" fill="#faf8f2"/>
<polygon points="83.3,386.4 97.8,381.6 97.8,382.4 86.3,388.0 83.3,388.0" fill="#5a3c1a"/>
<polygon points="83.3,383.2 97.0,379.6 97.8,380.4 97.8,382.6 88.3,387.2 83.3,387.2" fill="url(#rollo)"/>
<ellipse cx="83.3" cy="385.4" rx="2.6" ry="2.2" fill="#c88440"/>
<ellipse cx="88.6" cy="385.4" rx="2.6" ry="2.2" fill="#c88440"/>
<ellipse cx="83.3" cy="385.4" rx="2.1" ry="1.75" fill="#faf8f2"/>
<ellipse cx="88.6" cy="385.4" rx="2.1" ry="1.75" fill="#faf8f2"/>
<polygon points="83.3,391.2 97.8,386.4 97.8,387.2 86.3,392.9 83.3,392.9" fill="#5a3c1a"/>
<polygon points="83.3,388.1 97.0,384.4 97.8,385.2 97.8,387.4 88.3,392.1 83.3,392.1" fill="url(#rollo)"/>
<ellipse cx="83.3" cy="390.2" rx="2.6" ry="2.2" fill="#c88440"/>
<ellipse cx="88.6" cy="390.2" rx="2.6" ry="2.2" fill="#c88440"/>
<ellipse cx="83.3" cy="390.2" rx="2.1" ry="1.75" fill="#faf8f2"/>
<ellipse cx="88.6" cy="390.2" rx="2.1" ry="1.75" fill="#faf8f2"/>
<polygon points="112.3,347.6 126.2,342.8 126.2,343.6 115.3,349.2 112.3,349.2" fill="#5a3c1a"/>
<polygon points="112.3,344.4 125.4,340.8 126.2,341.6 126.2,343.8 117.3,348.4 112.3,348.4" fill="url(#rollo)"/>
<ellipse cx="112.3" cy="346.6" rx="2.6" ry="2.2" fill="#c88440"/>
<ellipse cx="117.6" cy="346.6" rx="2.6" ry="2.2" fill="#c88440"/>
<ellipse cx="112.3" cy="346.6" rx="2.1" ry="1.75" fill="#faf8f2"/>
<ellipse cx="117.6" cy="346.6" rx="2.1" ry="1.75" fill="#faf8f2"/>
<polygon points="112.3,352.5 126.2,347.7 126.2,348.5 115.3,354.1 112.3,354.1" fill="#5a3c1a"/>
<polygon points="112.3,349.3 125.4,345.7 126.2,346.5 126.2,348.7 117.3,353.3 112.3,353.3" fill="url(#rollo)"/>
<ellipse cx="112.3" cy="351.5" rx="2.6" ry="2.2" fill="#c88440"/>
<ellipse cx="117.6" cy="351.5" rx="2.6" ry="2.2" fill="#c88440"/>
<ellipse cx="112.3" cy="351.5" rx="2.1" ry="1.75" fill="#faf8f2"/>
<ellipse cx="117.6" cy="351.5" rx="2.1" ry="1.75" fill="#faf8f2"/>
<polygon points="112.3,357.3 126.2,352.5 126.2,353.3 115.3,358.9 112.3,358.9" fill="#5a3c1a"/>
<polygon points="112.3,354.1 125.4,350.5 126.2,351.3 126.2,353.5 117.3,358.1 112.3,358.1" fill="url(#rollo)"/>
<ellipse cx="112.3" cy="356.3" rx="2.6" ry="2.2" fill="#c88440"/>
<ellipse cx="117.6" cy="356.3" rx="2.6" ry="2.2" fill="#c88440"/>
<ellipse cx="112.3" cy="356.3" rx="2.1" ry="1.75" fill="#faf8f2"/>
<ellipse cx="117.6" cy="356.3" rx="2.1" ry="1.75" fill="#faf8f2"/>
<polygon points="112.3,362.2 126.2,357.4 126.2,358.2 115.3,363.8 112.3,363.8" fill="#5a3c1a"/>
<polygon points="112.3,359.0 125.4,355.4 126.2,356.2 126.2,358.4 117.3,363.0 112.3,363.0" fill="url(#rollo)"/>
<ellipse cx="112.3" cy="361.2" rx="2.6" ry="2.2" fill="#c88440"/>
<ellipse cx="117.6" cy="361.2" rx="2.6" ry="2.2" fill="#c88440"/>
<ellipse cx="112.3" cy="361.2" rx="2.1" ry="1.75" fill="#faf8f2"/>
<ellipse cx="117.6" cy="361.2" rx="2.1" ry="1.75" fill="#faf8f2"/>
<polygon points="112.3,367.0 126.2,362.2 126.2,363.0 115.3,368.6 112.3,368.6" fill="#5a3c1a"/>
<polygon points="112.3,363.8 125.4,360.2 126.2,361.0 126.2,363.2 117.3,367.8 112.3,367.8" fill="url(#rollo)"/>
<ellipse cx="112.3" cy="366.0" rx="2.6" ry="2.2" fill="#c88440"/>
<ellipse cx="117.6" cy="366.0" rx="2.6" ry="2.2" fill="#c88440"/>
<ellipse cx="112.3" cy="366.0" rx="2.1" ry="1.75" fill="#faf8f2"/>
<ellipse cx="117.6" cy="366.0" rx="2.1" ry="1.75" fill="#faf8f2"/>
<polygon points="112.3,371.9 126.2,367.1 126.2,367.9 115.3,373.5 112.3,373.5" fill="#5a3c1a"/>
<polygon points="112.3,368.7 125.4,365.1 126.2,365.9 126.2,368.1 117.3,372.7 112.3,372.7" fill="url(#rollo)"/>
<ellipse cx="112.3" cy="370.9" rx="2.6" ry="2.2" fill="#c88440"/>
<ellipse cx="117.6" cy="370.9" rx="2.6" ry="2.2" fill="#c88440"/>
<ellipse cx="112.3" cy="370.9" rx="2.1" ry="1.75" fill="#faf8f2"/>
<ellipse cx="117.6" cy="370.9" rx="2.1" ry="1.75" fill="#faf8f2"/>
<polygon points="112.3,376.7 126.2,371.9 126.2,372.7 115.3,378.3 112.3,378.3" fill="#5a3c1a"/>
<polygon points="112.3,373.5 125.4,369.9 126.2,370.7 126.2,372.9 117.3,377.5 112.3,377.5" fill="url(#rollo)"/>
<ellipse cx="112.3" cy="375.7" rx="2.6" ry="2.2" fill="#c88440"/>
<ellipse cx="117.6" cy="375.7" rx="2.6" ry="2.2" fill="#c88440"/>
<ellipse cx="112.3" cy="375.7" rx="2.1" ry="1.75" fill="#faf8f2"/>
<ellipse cx="117.6" cy="375.7" rx="2.1" ry="1.75" fill="#faf8f2"/>
<polygon points="112.3,381.6 126.2,376.8 126.2,377.6 115.3,383.2 112.3,383.2" fill="#5a3c1a"/>
<polygon points="112.3,378.4 125.4,374.8 126.2,375.6 126.2,377.8 117.3,382.4 112.3,382.4" fill="url(#rollo)"/>
<ellipse cx="112.3" cy="380.6" rx="2.6" ry="2.2" fill="#c88440"/>
<ellipse cx="117.6" cy="380.6" rx="2.6" ry="2.2" fill="#c88440"/>
<ellipse cx="112.3" cy="380.6" rx="2.1" ry="1.75" fill="#faf8f2"/>
<ellipse cx="117.6" cy="380.6" rx="2.1" ry="1.75" fill="#faf8f2"/>
<polygon points="112.3,386.4 126.2,381.6 126.2,382.4 115.3,388.0 112.3,388.0" fill="#5a3c1a"/>
<polygon points="112.3,383.2 125.4,379.6 126.2,380.4 126.2,382.6 117.3,387.2 112.3,387.2" fill="url(#rollo)"/>
<ellipse cx="112.3" cy="385.4" rx="2.6" ry="2.2" fill="#c88440"/>
<ellipse cx="117.6" cy="385.4" rx="2.6" ry="2.2" fill="#c88440"/>
<ellipse cx="112.3" cy="385.4" rx="2.1" ry="1.75" fill="#faf8f2"/>
<ellipse cx="117.6" cy="385.4" rx="2.1" ry="1.75" fill="#faf8f2"/>
<polygon points="112.3,391.2 126.2,386.4 126.2,387.2 115.3,392.9 112.3,392.9" fill="#5a3c1a"/>
<polygon points="112.3,388.1 125.4,384.4 126.2,385.2 126.2,387.4 117.3,392.1 112.3,392.1" fill="url(#rollo)"/>
<ellipse cx="112.3" cy="390.2" rx="2.6" ry="2.2" fill="#c88440"/>
<ellipse cx="117.6" cy="390.2" rx="2.6" ry="2.2" fill="#c88440"/>
<ellipse cx="112.3" cy="390.2" rx="2.1" ry="1.75" fill="#faf8f2"/>
<ellipse cx="117.6" cy="390.2" rx="2.1" ry="1.75" fill="#faf8f2"/>
<polygon points="143.0,347.6 155.0,342.8 155.0,343.6 146.0,349.2 143.0,349.2" fill="#5a3c1a"/>
<polygon points="143.0,344.4 154.2,340.8 155.0,341.6 155.0,343.8 148.0,348.4 143.0,348.4" fill="url(#rollo)"/>
<ellipse cx="143.0" cy="346.6" rx="2.6" ry="2.2" fill="#c88440"/>
<ellipse cx="148.3" cy="346.6" rx="2.6" ry="2.2" fill="#c88440"/>
<ellipse cx="143.0" cy="346.6" rx="2.1" ry="1.75" fill="#faf8f2"/>
<ellipse cx="148.3" cy="346.6" rx="2.1" ry="1.75" fill="#faf8f2"/>
<polygon points="143.0,352.5 155.0,347.7 155.0,348.5 146.0,354.1 143.0,354.1" fill="#5a3c1a"/>
<polygon points="143.0,349.3 154.2,345.7 155.0,346.5 155.0,348.7 148.0,353.3 143.0,353.3" fill="url(#rollo)"/>
<ellipse cx="143.0" cy="351.5" rx="2.6" ry="2.2" fill="#c88440"/>
<ellipse cx="148.3" cy="351.5" rx="2.6" ry="2.2" fill="#c88440"/>
<ellipse cx="143.0" cy="351.5" rx="2.1" ry="1.75" fill="#faf8f2"/>
<ellipse cx="148.3" cy="351.5" rx="2.1" ry="1.75" fill="#faf8f2"/>
<polygon points="143.0,357.3 155.0,352.5 155.0,353.3 146.0,358.9 143.0,358.9" fill="#5a3c1a"/>
<polygon points="143.0,354.1 154.2,350.5 155.0,351.3 155.0,353.5 148.0,358.1 143.0,358.1" fill="url(#rollo)"/>
<ellipse cx="143.0" cy="356.3" rx="2.6" ry="2.2" fill="#c88440"/>
<ellipse cx="148.3" cy="356.3" rx="2.6" ry="2.2" fill="#c88440"/>
<ellipse cx="143.0" cy="356.3" rx="2.1" ry="1.75" fill="#faf8f2"/>
<ellipse cx="148.3" cy="356.3" rx="2.1" ry="1.75" fill="#faf8f2"/>
<polygon points="143.0,362.2 155.0,357.4 155.0,358.2 146.0,363.8 143.0,363.8" fill="#5a3c1a"/>
<polygon points="143.0,359.0 154.2,355.4 155.0,356.2 155.0,358.4 148.0,363.0 143.0,363.0" fill="url(#rollo)"/>
<ellipse cx="143.0" cy="361.2" rx="2.6" ry="2.2" fill="#c88440"/>
<ellipse cx="148.3" cy="361.2" rx="2.6" ry="2.2" fill="#c88440"/>
<ellipse cx="143.0" cy="361.2" rx="2.1" ry="1.75" fill="#faf8f2"/>
<ellipse cx="148.3" cy="361.2" rx="2.1" ry="1.75" fill="#faf8f2"/>
<polygon points="143.0,367.0 155.0,362.2 155.0,363.0 146.0,368.6 143.0,368.6" fill="#5a3c1a"/>
<polygon points="143.0,363.8 154.2,360.2 155.0,361.0 155.0,363.2 148.0,367.8 143.0,367.8" fill="url(#rollo)"/>
<ellipse cx="143.0" cy="366.0" rx="2.6" ry="2.2" fill="#c88440"/>
<ellipse cx="148.3" cy="366.0" rx="2.6" ry="2.2" fill="#c88440"/>
<ellipse cx="143.0" cy="366.0" rx="2.1" ry="1.75" fill="#faf8f2"/>
<ellipse cx="148.3" cy="366.0" rx="2.1" ry="1.75" fill="#faf8f2"/>
<polygon points="143.0,371.9 155.0,367.1 155.0,367.9 146.0,373.5 143.0,373.5" fill="#5a3c1a"/>
<polygon points="143.0,368.7 154.2,365.1 155.0,365.9 155.0,368.1 148.0,372.7 143.0,372.7" fill="url(#rollo)"/>
<ellipse cx="143.0" cy="370.9" rx="2.6" ry="2.2" fill="#c88440"/>
<ellipse cx="148.3" cy="370.9" rx="2.6" ry="2.2" fill="#c88440"/>
<ellipse cx="143.0" cy="370.9" rx="2.1" ry="1.75" fill="#faf8f2"/>
<ellipse cx="148.3" cy="370.9" rx="2.1" ry="1.75" fill="#faf8f2"/>
<polygon points="143.0,376.7 155.0,371.9 155.0,372.7 146.0,378.3 143.0,378.3" fill="#5a3c1a"/>
<polygon points="143.0,373.5 154.2,369.9 155.0,370.7 155.0,372.9 148.0,377.5 143.0,377.5" fill="url(#rollo)"/>
<ellipse cx="143.0" cy="375.7" rx="2.6" ry="2.2" fill="#c88440"/>
<ellipse cx="148.3" cy="375.7" rx="2.6" ry="2.2" fill="#c88440"/>
<ellipse cx="143.0" cy="375.7" rx="2.1" ry="1.75" fill="#faf8f2"/>
<ellipse cx="148.3" cy="375.7" rx="2.1" ry="1.75" fill="#faf8f2"/>
<polygon points="143.0,381.6 155.0,376.8 155.0,377.6 146.0,383.2 143.0,383.2" fill="#5a3c1a"/>
<polygon points="143.0,378.4 154.2,374.8 155.0,375.6 155.0,377.8 148.0,382.4 143.0,382.4" fill="url(#rollo)"/>
<ellipse cx="143.0" cy="380.6" rx="2.6" ry="2.2" fill="#c88440"/>
<ellipse cx="148.3" cy="380.6" rx="2.6" ry="2.2" fill="#c88440"/>
<ellipse cx="143.0" cy="380.6" rx="2.1" ry="1.75" fill="#faf8f2"/>
<ellipse cx="148.3" cy="380.6" rx="2.1" ry="1.75" fill="#faf8f2"/>
<polygon points="143.0,386.4 155.0,381.6 155.0,382.4 146.0,388.0 143.0,388.0" fill="#5a3c1a"/>
<polygon points="143.0,383.2 154.2,379.6 155.0,380.4 155.0,382.6 148.0,387.2 143.0,387.2" fill="url(#rollo)"/>
<ellipse cx="143.0" cy="385.4" rx="2.6" ry="2.2" fill="#c88440"/>
<ellipse cx="148.3" cy="385.4" rx="2.6" ry="2.2" fill="#c88440"/>
<ellipse cx="143.0" cy="385.4" rx="2.1" ry="1.75" fill="#faf8f2"/>
<ellipse cx="148.3" cy="385.4" rx="2.1" ry="1.75" fill="#faf8f2"/>
<polygon points="143.0,391.2 155.0,386.4 155.0,387.2 146.0,392.9 143.0,392.9" fill="#5a3c1a"/>
<polygon points="143.0,388.1 154.2,384.4 155.0,385.2 155.0,387.4 148.0,392.1 143.0,392.1" fill="url(#rollo)"/>
<ellipse cx="143.0" cy="390.2" rx="2.6" ry="2.2" fill="#c88440"/>
<ellipse cx="148.3" cy="390.2" rx="2.6" ry="2.2" fill="#c88440"/>
<ellipse cx="143.0" cy="390.2" rx="2.1" ry="1.75" fill="#faf8f2"/>
<ellipse cx="148.3" cy="390.2" rx="2.1" ry="1.75" fill="#faf8f2"/>
<rect x="132.50" y="265.30" width="6.80" height="3.60" fill="#203030" />
<rect x="132.50" y="268.90" width="6.80" height="5.60" fill="#d49060" />
<rect x="134.50" y="270.00" width="2.50" height="2.50" fill="#3050b0" />
<rect x="125.00" y="318.50" width="17.00" height="2.20" fill="#e6eeee" />
<rect x="125.00" y="322.50" width="17.00" height="2.20" fill="#e6eeee" />
<rect x="131.00" y="319.50" width="6.00" height="4.50" fill="#203838" />
<rect x="141.00" y="317.50" width="1.40" height="8.00" fill="#e6eeee" />
<rect x="125.50" y="317.80" width="1.40" height="8.00" fill="#e6eeee" />
<path d="M122.3,179.6 h-4.1 v5.6 h4.1" fill="none" stroke="#d6eeea" stroke-width="2"/>
<g fill="#e4f0ea" font-size="3.5">
<text x="0" y="0" transform="translate(134,200) rotate(90)">原纸仓</text>
<text x="0" y="0" transform="translate(134.5,337) rotate(90)">成品仓</text>
</g>
<g transform="translate(220.2,178.7)">
 <rect x="6" y="0.7" width="7.7" height="3.4" fill="#f2f0e6"/>
 <rect x="6" y="4.1" width="7.7" height="6" fill="#24403c"/>
 <rect x="6.3" y="5.6" width="7" height="1" fill="#6a9894"/>
 <rect x="6.3" y="7.8" width="7" height="1" fill="#6a9894"/>
 <rect x="2.6" y="11.3" width="13.6" height="2.6" fill="#f6f4ee"/>
 <rect x="2.6" y="13.9" width="13.6" height="2.4" fill="#6a2a2a"/>
 <rect x="17.4" y="11.5" width="1" height="1.2" fill="#e89050"/>
 <rect x="17.4" y="14" width="1" height="1.2" fill="#e89050"/>
 <rect x="3.2" y="16.3" width="12.4" height="14" fill="#2c5040" opacity="0.75"/>
 <rect x="2" y="11.5" width="1" height="3.5" fill="#e89050"/>
 <rect x="2.2" y="16.3" width="1.3" height="15" fill="#88b0a8"/>
 <rect x="15.3" y="16.3" width="1.3" height="15" fill="#88b0a8"/>
 <rect x="5.6" y="16" width="7.6" height="19.6" fill="#efe0bf"/>
 <rect x="5.6" y="24.5" width="7.6" height="0.8" fill="#c8b48c"/>
 <rect x="5.6" y="29" width="7.6" height="1.2" fill="#7a6a50"/>
 <rect x="0.5" y="30.1" width="18.7" height="2.1" fill="#dcecea"/>
 <rect x="0.5" y="30.1" width="2.3" height="4.6" fill="#eef2ee"/>
 <rect x="16.9" y="30.1" width="2.3" height="4.6" fill="#eef2ee"/>
</g>
<g transform="translate(245.7,178.7)">
 <rect x="6" y="0.7" width="7.7" height="3.4" fill="#f2f0e6"/>
 <rect x="6" y="4.1" width="7.7" height="6" fill="#24403c"/>
 <rect x="6.3" y="5.6" width="7" height="1" fill="#6a9894"/>
 <rect x="6.3" y="7.8" width="7" height="1" fill="#6a9894"/>
 <rect x="2.6" y="11.3" width="13.6" height="2.6" fill="#f6f4ee"/>
 <rect x="2.6" y="13.9" width="13.6" height="2.4" fill="#6a2a2a"/>
 <rect x="17.4" y="11.5" width="1" height="1.2" fill="#e89050"/>
 <rect x="17.4" y="14" width="1" height="1.2" fill="#e89050"/>
 <rect x="3.2" y="16.3" width="12.4" height="14" fill="#2c5040" opacity="0.75"/>
 <rect x="2" y="11.5" width="1" height="3.5" fill="#e89050"/>
 <rect x="2.2" y="16.3" width="1.3" height="15" fill="#88b0a8"/>
 <rect x="15.3" y="16.3" width="1.3" height="15" fill="#88b0a8"/>
 <rect x="5.6" y="16" width="7.6" height="19.6" fill="#efe0bf"/>
 <rect x="5.6" y="24.5" width="7.6" height="0.8" fill="#c8b48c"/>
 <rect x="5.6" y="29" width="7.6" height="1.2" fill="#7a6a50"/>
 <rect x="0.5" y="30.1" width="18.7" height="2.1" fill="#dcecea"/>
 <rect x="0.5" y="30.1" width="2.3" height="4.6" fill="#eef2ee"/>
 <rect x="16.9" y="30.1" width="2.3" height="4.6" fill="#eef2ee"/>
</g>
<g transform="translate(220.2,223.7)">
 <rect x="6" y="0.7" width="7.7" height="3.4" fill="#f2f0e6"/>
 <rect x="6" y="4.1" width="7.7" height="6" fill="#24403c"/>
 <rect x="6.3" y="5.6" width="7" height="1" fill="#6a9894"/>
 <rect x="6.3" y="7.8" width="7" height="1" fill="#6a9894"/>
 <rect x="2.6" y="11.3" width="13.6" height="2.6" fill="#f6f4ee"/>
 <rect x="2.6" y="13.9" width="13.6" height="2.4" fill="#6a2a2a"/>
 <rect x="17.4" y="11.5" width="1" height="1.2" fill="#e89050"/>
 <rect x="17.4" y="14" width="1" height="1.2" fill="#e89050"/>
 <rect x="3.2" y="16.3" width="12.4" height="14" fill="#2c5040" opacity="0.75"/>
 <rect x="2" y="11.5" width="1" height="3.5" fill="#e89050"/>
 <rect x="2.2" y="16.3" width="1.3" height="15" fill="#88b0a8"/>
 <rect x="15.3" y="16.3" width="1.3" height="15" fill="#88b0a8"/>
 <rect x="5.6" y="16" width="7.6" height="19.6" fill="#efe0bf"/>
 <rect x="5.6" y="24.5" width="7.6" height="0.8" fill="#c8b48c"/>
 <rect x="5.6" y="29" width="7.6" height="1.2" fill="#7a6a50"/>
 <rect x="0.5" y="30.1" width="18.7" height="2.1" fill="#dcecea"/>
 <rect x="0.5" y="30.1" width="2.3" height="4.6" fill="#eef2ee"/>
 <rect x="16.9" y="30.1" width="2.3" height="4.6" fill="#eef2ee"/>
</g>
<g transform="translate(245.7,223.7)">
 <rect x="6" y="0.7" width="7.7" height="3.4" fill="#f2f0e6"/>
 <rect x="6" y="4.1" width="7.7" height="6" fill="#24403c"/>
 <rect x="6.3" y="5.6" width="7" height="1" fill="#6a9894"/>
 <rect x="6.3" y="7.8" width="7" height="1" fill="#6a9894"/>
 <rect x="2.6" y="11.3" width="13.6" height="2.6" fill="#f6f4ee"/>
 <rect x="2.6" y="13.9" width="13.6" height="2.4" fill="#6a2a2a"/>
 <rect x="17.4" y="11.5" width="1" height="1.2" fill="#e89050"/>
 <rect x="17.4" y="14" width="1" height="1.2" fill="#e89050"/>
 <rect x="3.2" y="16.3" width="12.4" height="14" fill="#2c5040" opacity="0.75"/>
 <rect x="2" y="11.5" width="1" height="3.5" fill="#e89050"/>
 <rect x="2.2" y="16.3" width="1.3" height="15" fill="#88b0a8"/>
 <rect x="15.3" y="16.3" width="1.3" height="15" fill="#88b0a8"/>
 <rect x="5.6" y="16" width="7.6" height="19.6" fill="#efe0bf"/>
 <rect x="5.6" y="24.5" width="7.6" height="0.8" fill="#c8b48c"/>
 <rect x="5.6" y="29" width="7.6" height="1.2" fill="#7a6a50"/>
 <rect x="0.5" y="30.1" width="18.7" height="2.1" fill="#dcecea"/>
 <rect x="0.5" y="30.1" width="2.3" height="4.6" fill="#eef2ee"/>
 <rect x="16.9" y="30.1" width="2.3" height="4.6" fill="#eef2ee"/>
</g>
<g transform="translate(294.5,188)"><rect x="4.8" y="2.8" width="8.8" height="58.8" fill="#3f665c"/><rect x="13.6" y="3" width="6" height="9" fill="#1f5a28" opacity="0.5"/><rect x="13.6" y="1.5" width="3.6" height="61.2" fill="#dcedee"/><rect x="16.5" y="1.5" width="0.7" height="61.2" fill="#9fc0c0"/><rect x="4.8" y="2.8" width="8.8" height="2.8" fill="#eef6f6"/><rect x="4.8" y="5.6" width="8.8" height="4.4" fill="#6f928a"/><rect x="4.8" y="7.4" width="8.8" height="0.9" fill="#c0d8d4"/><rect x="4.8" y="10.4" width="8.8" height="3.10" fill="#a9c6c2"/><rect x="4.8" y="10.4" width="8.8" height="1.6" fill="#e6f2f0"/><rect x="4.8" y="14.10" width="8.8" height="5" fill="#eef6f5"/><rect x="5.8" y="15.30" width="6.4" height="2.6" fill="#c4d8d6"/><rect x="4.8" y="19.70" width="8.8" height="3.60" fill="#56796f"/><rect x="4.8" y="21.05" width="8.8" height="0.9" fill="#b2ccc8"/><polygon points="13.6,14.10 17,15.10 24,15.30 24,22.50 17,22.50 13.6,19.10" fill="#2c5a44" opacity="0.55"/><circle cx="15.3" cy="16.60" r="2.5" fill="#e4f2f2"/><circle cx="15.3" cy="16.60" r="1.6" fill="#6aa8b8"/><ellipse cx="20.8" cy="16.70" rx="2.9" ry="1.9" fill="#b8e6ea"/><ellipse cx="20.8" cy="20.90" rx="2.7" ry="1.7" fill="#9ed6dc"/><circle cx="21.8" cy="18.70" r="0.8" fill="#1c2c50"/><circle cx="19.5" cy="16.30" r="0.8" fill="#f4fafa"/><rect x="4.8" y="23.90" width="8.8" height="5" fill="#eef6f5"/><rect x="5.8" y="25.10" width="6.4" height="2.6" fill="#c4d8d6"/><rect x="4.8" y="29.50" width="8.8" height="3.60" fill="#56796f"/><rect x="4.8" y="30.85" width="8.8" height="0.9" fill="#b2ccc8"/><polygon points="13.6,23.90 17,24.90 24,25.10 24,32.30 17,32.30 13.6,28.90" fill="#2c5a44" opacity="0.55"/><circle cx="15.3" cy="26.40" r="2.5" fill="#e4f2f2"/><circle cx="15.3" cy="26.40" r="1.6" fill="#6aa8b8"/><ellipse cx="20.8" cy="26.50" rx="2.9" ry="1.9" fill="#b8e6ea"/><ellipse cx="20.8" cy="30.70" rx="2.7" ry="1.7" fill="#9ed6dc"/><circle cx="21.8" cy="28.50" r="0.8" fill="#1c2c50"/><circle cx="19.5" cy="26.10" r="0.8" fill="#f4fafa"/><rect x="4.8" y="33.70" width="8.8" height="5" fill="#eef6f5"/><rect x="5.8" y="34.90" width="6.4" height="2.6" fill="#c4d8d6"/><rect x="4.8" y="39.30" width="8.8" height="3.60" fill="#56796f"/><rect x="4.8" y="40.65" width="8.8" height="0.9" fill="#b2ccc8"/><polygon points="13.6,33.70 17,34.70 24,34.90 24,42.10 17,42.10 13.6,38.70" fill="#2c5a44" opacity="0.55"/><circle cx="15.3" cy="36.20" r="2.5" fill="#e4f2f2"/><circle cx="15.3" cy="36.20" r="1.6" fill="#6aa8b8"/><ellipse cx="20.8" cy="36.30" rx="2.9" ry="1.9" fill="#b8e6ea"/><ellipse cx="20.8" cy="40.50" rx="2.7" ry="1.7" fill="#9ed6dc"/><circle cx="21.8" cy="38.30" r="0.8" fill="#1c2c50"/><circle cx="19.5" cy="35.90" r="0.8" fill="#f4fafa"/><rect x="4.8" y="43.50" width="8.8" height="5" fill="#eef6f5"/><rect x="5.8" y="44.70" width="6.4" height="2.6" fill="#c4d8d6"/><rect x="4.8" y="49.10" width="8.8" height="3.60" fill="#56796f"/><rect x="4.8" y="50.45" width="8.8" height="0.9" fill="#b2ccc8"/><polygon points="13.6,43.50 17,44.50 24,44.70 24,51.90 17,51.90 13.6,48.50" fill="#2c5a44" opacity="0.55"/><circle cx="15.3" cy="46.00" r="2.5" fill="#e4f2f2"/><circle cx="15.3" cy="46.00" r="1.6" fill="#6aa8b8"/><ellipse cx="20.8" cy="46.10" rx="2.9" ry="1.9" fill="#b8e6ea"/><ellipse cx="20.8" cy="50.30" rx="2.7" ry="1.7" fill="#9ed6dc"/><circle cx="21.8" cy="48.10" r="0.8" fill="#1c2c50"/><circle cx="19.5" cy="45.70" r="0.8" fill="#f4fafa"/><rect x="4.8" y="53.30" width="8.8" height="8.10" fill="#8fb0aa"/><rect x="4.8" y="53.70" width="8.8" height="1.2" fill="#d6e8e6"/><rect x="4.8" y="57.35" width="8.8" height="1" fill="#d6e8e6"/><rect x="14" y="3" width="5" height="1.8" fill="#8ec4c8"/><rect x="1.1" y="1.5" width="3.7" height="61.2" fill="#e2f1f2"/><rect x="1.1" y="1.5" width="1" height="61.2" fill="#f8fcfc"/><rect x="4.1" y="1.5" width="0.7" height="61.2" fill="#9fc0c0"/><circle cx="1" cy="16.60" r="1.1" fill="#eef6f6"/><circle cx="1" cy="26.40" r="1.1" fill="#eef6f6"/><circle cx="1" cy="36.20" r="1.1" fill="#eef6f6"/><circle cx="1" cy="46.00" r="1.1" fill="#eef6f6"/><rect x="0" y="-1.10" width="17" height="2.4" fill="#dcecec"/><rect x="3" y="-0.10" width="11" height="0.6" fill="#7a9a98"/><rect x="-4" y="-2.85" width="8" height="5.7" rx="2.3" fill="#f3f8f8"/><rect x="13" y="-2.85" width="8" height="5.7" rx="2.3" fill="#f3f8f8"/><rect x="0" y="63.10" width="17" height="2.4" fill="#dcecec"/><rect x="3" y="64.10" width="11" height="0.6" fill="#7a9a98"/><rect x="-4" y="61.35" width="8" height="5.7" rx="2.3" fill="#f3f8f8"/><rect x="13" y="61.35" width="8" height="5.7" rx="2.3" fill="#f3f8f8"/></g>
<g transform="translate(643.6,0) scale(-1,1) translate(294.5,188)"><rect x="4.8" y="2.8" width="8.8" height="58.8" fill="#3f665c"/><rect x="13.6" y="3" width="6" height="9" fill="#1f5a28" opacity="0.5"/><rect x="13.6" y="1.5" width="3.6" height="61.2" fill="#dcedee"/><rect x="16.5" y="1.5" width="0.7" height="61.2" fill="#9fc0c0"/><rect x="4.8" y="2.8" width="8.8" height="2.8" fill="#eef6f6"/><rect x="4.8" y="5.6" width="8.8" height="4.4" fill="#6f928a"/><rect x="4.8" y="7.4" width="8.8" height="0.9" fill="#c0d8d4"/><rect x="4.8" y="10.4" width="8.8" height="3.10" fill="#a9c6c2"/><rect x="4.8" y="10.4" width="8.8" height="1.6" fill="#e6f2f0"/><rect x="4.8" y="14.10" width="8.8" height="5" fill="#eef6f5"/><rect x="5.8" y="15.30" width="6.4" height="2.6" fill="#c4d8d6"/><rect x="4.8" y="19.70" width="8.8" height="3.60" fill="#56796f"/><rect x="4.8" y="21.05" width="8.8" height="0.9" fill="#b2ccc8"/><polygon points="13.6,14.10 17,15.10 24,15.30 24,22.50 17,22.50 13.6,19.10" fill="#2c5a44" opacity="0.55"/><circle cx="15.3" cy="16.60" r="2.5" fill="#e4f2f2"/><circle cx="15.3" cy="16.60" r="1.6" fill="#6aa8b8"/><ellipse cx="20.8" cy="16.70" rx="2.9" ry="1.9" fill="#b8e6ea"/><ellipse cx="20.8" cy="20.90" rx="2.7" ry="1.7" fill="#9ed6dc"/><circle cx="21.8" cy="18.70" r="0.8" fill="#1c2c50"/><circle cx="19.5" cy="16.30" r="0.8" fill="#f4fafa"/><rect x="4.8" y="23.90" width="8.8" height="5" fill="#eef6f5"/><rect x="5.8" y="25.10" width="6.4" height="2.6" fill="#c4d8d6"/><rect x="4.8" y="29.50" width="8.8" height="3.60" fill="#56796f"/><rect x="4.8" y="30.85" width="8.8" height="0.9" fill="#b2ccc8"/><polygon points="13.6,23.90 17,24.90 24,25.10 24,32.30 17,32.30 13.6,28.90" fill="#2c5a44" opacity="0.55"/><circle cx="15.3" cy="26.40" r="2.5" fill="#e4f2f2"/><circle cx="15.3" cy="26.40" r="1.6" fill="#6aa8b8"/><ellipse cx="20.8" cy="26.50" rx="2.9" ry="1.9" fill="#b8e6ea"/><ellipse cx="20.8" cy="30.70" rx="2.7" ry="1.7" fill="#9ed6dc"/><circle cx="21.8" cy="28.50" r="0.8" fill="#1c2c50"/><circle cx="19.5" cy="26.10" r="0.8" fill="#f4fafa"/><rect x="4.8" y="33.70" width="8.8" height="5" fill="#eef6f5"/><rect x="5.8" y="34.90" width="6.4" height="2.6" fill="#c4d8d6"/><rect x="4.8" y="39.30" width="8.8" height="3.60" fill="#56796f"/><rect x="4.8" y="40.65" width="8.8" height="0.9" fill="#b2ccc8"/><polygon points="13.6,33.70 17,34.70 24,34.90 24,42.10 17,42.10 13.6,38.70" fill="#2c5a44" opacity="0.55"/><circle cx="15.3" cy="36.20" r="2.5" fill="#e4f2f2"/><circle cx="15.3" cy="36.20" r="1.6" fill="#6aa8b8"/><ellipse cx="20.8" cy="36.30" rx="2.9" ry="1.9" fill="#b8e6ea"/><ellipse cx="20.8" cy="40.50" rx="2.7" ry="1.7" fill="#9ed6dc"/><circle cx="21.8" cy="38.30" r="0.8" fill="#1c2c50"/><circle cx="19.5" cy="35.90" r="0.8" fill="#f4fafa"/><rect x="4.8" y="43.50" width="8.8" height="5" fill="#eef6f5"/><rect x="5.8" y="44.70" width="6.4" height="2.6" fill="#c4d8d6"/><rect x="4.8" y="49.10" width="8.8" height="3.60" fill="#56796f"/><rect x="4.8" y="50.45" width="8.8" height="0.9" fill="#b2ccc8"/><polygon points="13.6,43.50 17,44.50 24,44.70 24,51.90 17,51.90 13.6,48.50" fill="#2c5a44" opacity="0.55"/><circle cx="15.3" cy="46.00" r="2.5" fill="#e4f2f2"/><circle cx="15.3" cy="46.00" r="1.6" fill="#6aa8b8"/><ellipse cx="20.8" cy="46.10" rx="2.9" ry="1.9" fill="#b8e6ea"/><ellipse cx="20.8" cy="50.30" rx="2.7" ry="1.7" fill="#9ed6dc"/><circle cx="21.8" cy="48.10" r="0.8" fill="#1c2c50"/><circle cx="19.5" cy="45.70" r="0.8" fill="#f4fafa"/><rect x="4.8" y="53.30" width="8.8" height="8.10" fill="#8fb0aa"/><rect x="4.8" y="53.70" width="8.8" height="1.2" fill="#d6e8e6"/><rect x="4.8" y="57.35" width="8.8" height="1" fill="#d6e8e6"/><rect x="14" y="3" width="5" height="1.8" fill="#8ec4c8"/><rect x="1.1" y="1.5" width="3.7" height="61.2" fill="#e2f1f2"/><rect x="1.1" y="1.5" width="1" height="61.2" fill="#f8fcfc"/><rect x="4.1" y="1.5" width="0.7" height="61.2" fill="#9fc0c0"/><circle cx="1" cy="16.60" r="1.1" fill="#eef6f6"/><circle cx="1" cy="26.40" r="1.1" fill="#eef6f6"/><circle cx="1" cy="36.20" r="1.1" fill="#eef6f6"/><circle cx="1" cy="46.00" r="1.1" fill="#eef6f6"/><rect x="0" y="-1.10" width="17" height="2.4" fill="#dcecec"/><rect x="3" y="-0.10" width="11" height="0.6" fill="#7a9a98"/><rect x="-4" y="-2.85" width="8" height="5.7" rx="2.3" fill="#f3f8f8"/><rect x="13" y="-2.85" width="8" height="5.7" rx="2.3" fill="#f3f8f8"/><rect x="0" y="63.10" width="17" height="2.4" fill="#dcecec"/><rect x="3" y="64.10" width="11" height="0.6" fill="#7a9a98"/><rect x="-4" y="61.35" width="8" height="5.7" rx="2.3" fill="#f3f8f8"/><rect x="13" y="61.35" width="8" height="5.7" rx="2.3" fill="#f3f8f8"/></g>
<g transform="translate(373.6,188)"><rect x="4.8" y="2.8" width="8.8" height="58.8" fill="#3f665c"/><rect x="13.6" y="3" width="6" height="9" fill="#1f5a28" opacity="0.5"/><rect x="13.6" y="1.5" width="3.6" height="61.2" fill="#dcedee"/><rect x="16.5" y="1.5" width="0.7" height="61.2" fill="#9fc0c0"/><rect x="4.8" y="2.8" width="8.8" height="2.8" fill="#eef6f6"/><rect x="4.8" y="5.6" width="8.8" height="4.4" fill="#6f928a"/><rect x="4.8" y="7.4" width="8.8" height="0.9" fill="#c0d8d4"/><rect x="4.8" y="10.4" width="8.8" height="3.10" fill="#a9c6c2"/><rect x="4.8" y="10.4" width="8.8" height="1.6" fill="#e6f2f0"/><rect x="4.8" y="14.10" width="8.8" height="5" fill="#eef6f5"/><rect x="5.8" y="15.30" width="6.4" height="2.6" fill="#c4d8d6"/><rect x="4.8" y="19.70" width="8.8" height="3.60" fill="#56796f"/><rect x="4.8" y="21.05" width="8.8" height="0.9" fill="#b2ccc8"/><polygon points="13.6,14.10 17,15.10 24,15.30 24,22.50 17,22.50 13.6,19.10" fill="#2c5a44" opacity="0.55"/><circle cx="15.3" cy="16.60" r="2.5" fill="#e4f2f2"/><circle cx="15.3" cy="16.60" r="1.6" fill="#6aa8b8"/><ellipse cx="20.8" cy="16.70" rx="2.9" ry="1.9" fill="#b8e6ea"/><ellipse cx="20.8" cy="20.90" rx="2.7" ry="1.7" fill="#9ed6dc"/><circle cx="21.8" cy="18.70" r="0.8" fill="#1c2c50"/><circle cx="19.5" cy="16.30" r="0.8" fill="#f4fafa"/><rect x="4.8" y="23.90" width="8.8" height="5" fill="#eef6f5"/><rect x="5.8" y="25.10" width="6.4" height="2.6" fill="#c4d8d6"/><rect x="4.8" y="29.50" width="8.8" height="3.60" fill="#56796f"/><rect x="4.8" y="30.85" width="8.8" height="0.9" fill="#b2ccc8"/><polygon points="13.6,23.90 17,24.90 24,25.10 24,32.30 17,32.30 13.6,28.90" fill="#2c5a44" opacity="0.55"/><circle cx="15.3" cy="26.40" r="2.5" fill="#e4f2f2"/><circle cx="15.3" cy="26.40" r="1.6" fill="#6aa8b8"/><ellipse cx="20.8" cy="26.50" rx="2.9" ry="1.9" fill="#b8e6ea"/><ellipse cx="20.8" cy="30.70" rx="2.7" ry="1.7" fill="#9ed6dc"/><circle cx="21.8" cy="28.50" r="0.8" fill="#1c2c50"/><circle cx="19.5" cy="26.10" r="0.8" fill="#f4fafa"/><rect x="4.8" y="33.70" width="8.8" height="5" fill="#eef6f5"/><rect x="5.8" y="34.90" width="6.4" height="2.6" fill="#c4d8d6"/><rect x="4.8" y="39.30" width="8.8" height="3.60" fill="#56796f"/><rect x="4.8" y="40.65" width="8.8" height="0.9" fill="#b2ccc8"/><polygon points="13.6,33.70 17,34.70 24,34.90 24,42.10 17,42.10 13.6,38.70" fill="#2c5a44" opacity="0.55"/><circle cx="15.3" cy="36.20" r="2.5" fill="#e4f2f2"/><circle cx="15.3" cy="36.20" r="1.6" fill="#6aa8b8"/><ellipse cx="20.8" cy="36.30" rx="2.9" ry="1.9" fill="#b8e6ea"/><ellipse cx="20.8" cy="40.50" rx="2.7" ry="1.7" fill="#9ed6dc"/><circle cx="21.8" cy="38.30" r="0.8" fill="#1c2c50"/><circle cx="19.5" cy="35.90" r="0.8" fill="#f4fafa"/><rect x="4.8" y="43.50" width="8.8" height="5" fill="#eef6f5"/><rect x="5.8" y="44.70" width="6.4" height="2.6" fill="#c4d8d6"/><rect x="4.8" y="49.10" width="8.8" height="3.60" fill="#56796f"/><rect x="4.8" y="50.45" width="8.8" height="0.9" fill="#b2ccc8"/><polygon points="13.6,43.50 17,44.50 24,44.70 24,51.90 17,51.90 13.6,48.50" fill="#2c5a44" opacity="0.55"/><circle cx="15.3" cy="46.00" r="2.5" fill="#e4f2f2"/><circle cx="15.3" cy="46.00" r="1.6" fill="#6aa8b8"/><ellipse cx="20.8" cy="46.10" rx="2.9" ry="1.9" fill="#b8e6ea"/><ellipse cx="20.8" cy="50.30" rx="2.7" ry="1.7" fill="#9ed6dc"/><circle cx="21.8" cy="48.10" r="0.8" fill="#1c2c50"/><circle cx="19.5" cy="45.70" r="0.8" fill="#f4fafa"/><rect x="4.8" y="53.30" width="8.8" height="8.10" fill="#8fb0aa"/><rect x="4.8" y="53.70" width="8.8" height="1.2" fill="#d6e8e6"/><rect x="4.8" y="57.35" width="8.8" height="1" fill="#d6e8e6"/><rect x="14" y="3" width="5" height="1.8" fill="#8ec4c8"/><rect x="1.1" y="1.5" width="3.7" height="61.2" fill="#e2f1f2"/><rect x="1.1" y="1.5" width="1" height="61.2" fill="#f8fcfc"/><rect x="4.1" y="1.5" width="0.7" height="61.2" fill="#9fc0c0"/><circle cx="1" cy="16.60" r="1.1" fill="#eef6f6"/><circle cx="1" cy="26.40" r="1.1" fill="#eef6f6"/><circle cx="1" cy="36.20" r="1.1" fill="#eef6f6"/><circle cx="1" cy="46.00" r="1.1" fill="#eef6f6"/><rect x="0" y="-1.10" width="17" height="2.4" fill="#dcecec"/><rect x="3" y="-0.10" width="11" height="0.6" fill="#7a9a98"/><rect x="-4" y="-2.85" width="8" height="5.7" rx="2.3" fill="#f3f8f8"/><rect x="13" y="-2.85" width="8" height="5.7" rx="2.3" fill="#f3f8f8"/><rect x="0" y="63.10" width="17" height="2.4" fill="#dcecec"/><rect x="3" y="64.10" width="11" height="0.6" fill="#7a9a98"/><rect x="-4" y="61.35" width="8" height="5.7" rx="2.3" fill="#f3f8f8"/><rect x="13" y="61.35" width="8" height="5.7" rx="2.3" fill="#f3f8f8"/></g>
<g transform="translate(801.6,0) scale(-1,1) translate(373.6,188)"><rect x="4.8" y="2.8" width="8.8" height="58.8" fill="#3f665c"/><rect x="13.6" y="3" width="6" height="9" fill="#1f5a28" opacity="0.5"/><rect x="13.6" y="1.5" width="3.6" height="61.2" fill="#dcedee"/><rect x="16.5" y="1.5" width="0.7" height="61.2" fill="#9fc0c0"/><rect x="4.8" y="2.8" width="8.8" height="2.8" fill="#eef6f6"/><rect x="4.8" y="5.6" width="8.8" height="4.4" fill="#6f928a"/><rect x="4.8" y="7.4" width="8.8" height="0.9" fill="#c0d8d4"/><rect x="4.8" y="10.4" width="8.8" height="3.10" fill="#a9c6c2"/><rect x="4.8" y="10.4" width="8.8" height="1.6" fill="#e6f2f0"/><rect x="4.8" y="14.10" width="8.8" height="5" fill="#eef6f5"/><rect x="5.8" y="15.30" width="6.4" height="2.6" fill="#c4d8d6"/><rect x="4.8" y="19.70" width="8.8" height="3.60" fill="#56796f"/><rect x="4.8" y="21.05" width="8.8" height="0.9" fill="#b2ccc8"/><polygon points="13.6,14.10 17,15.10 24,15.30 24,22.50 17,22.50 13.6,19.10" fill="#2c5a44" opacity="0.55"/><circle cx="15.3" cy="16.60" r="2.5" fill="#e4f2f2"/><circle cx="15.3" cy="16.60" r="1.6" fill="#6aa8b8"/><ellipse cx="20.8" cy="16.70" rx="2.9" ry="1.9" fill="#b8e6ea"/><ellipse cx="20.8" cy="20.90" rx="2.7" ry="1.7" fill="#9ed6dc"/><circle cx="21.8" cy="18.70" r="0.8" fill="#1c2c50"/><circle cx="19.5" cy="16.30" r="0.8" fill="#f4fafa"/><rect x="4.8" y="23.90" width="8.8" height="5" fill="#eef6f5"/><rect x="5.8" y="25.10" width="6.4" height="2.6" fill="#c4d8d6"/><rect x="4.8" y="29.50" width="8.8" height="3.60" fill="#56796f"/><rect x="4.8" y="30.85" width="8.8" height="0.9" fill="#b2ccc8"/><polygon points="13.6,23.90 17,24.90 24,25.10 24,32.30 17,32.30 13.6,28.90" fill="#2c5a44" opacity="0.55"/><circle cx="15.3" cy="26.40" r="2.5" fill="#e4f2f2"/><circle cx="15.3" cy="26.40" r="1.6" fill="#6aa8b8"/><ellipse cx="20.8" cy="26.50" rx="2.9" ry="1.9" fill="#b8e6ea"/><ellipse cx="20.8" cy="30.70" rx="2.7" ry="1.7" fill="#9ed6dc"/><circle cx="21.8" cy="28.50" r="0.8" fill="#1c2c50"/><circle cx="19.5" cy="26.10" r="0.8" fill="#f4fafa"/><rect x="4.8" y="33.70" width="8.8" height="5" fill="#eef6f5"/><rect x="5.8" y="34.90" width="6.4" height="2.6" fill="#c4d8d6"/><rect x="4.8" y="39.30" width="8.8" height="3.60" fill="#56796f"/><rect x="4.8" y="40.65" width="8.8" height="0.9" fill="#b2ccc8"/><polygon points="13.6,33.70 17,34.70 24,34.90 24,42.10 17,42.10 13.6,38.70" fill="#2c5a44" opacity="0.55"/><circle cx="15.3" cy="36.20" r="2.5" fill="#e4f2f2"/><circle cx="15.3" cy="36.20" r="1.6" fill="#6aa8b8"/><ellipse cx="20.8" cy="36.30" rx="2.9" ry="1.9" fill="#b8e6ea"/><ellipse cx="20.8" cy="40.50" rx="2.7" ry="1.7" fill="#9ed6dc"/><circle cx="21.8" cy="38.30" r="0.8" fill="#1c2c50"/><circle cx="19.5" cy="35.90" r="0.8" fill="#f4fafa"/><rect x="4.8" y="43.50" width="8.8" height="5" fill="#eef6f5"/><rect x="5.8" y="44.70" width="6.4" height="2.6" fill="#c4d8d6"/><rect x="4.8" y="49.10" width="8.8" height="3.60" fill="#56796f"/><rect x="4.8" y="50.45" width="8.8" height="0.9" fill="#b2ccc8"/><polygon points="13.6,43.50 17,44.50 24,44.70 24,51.90 17,51.90 13.6,48.50" fill="#2c5a44" opacity="0.55"/><circle cx="15.3" cy="46.00" r="2.5" fill="#e4f2f2"/><circle cx="15.3" cy="46.00" r="1.6" fill="#6aa8b8"/><ellipse cx="20.8" cy="46.10" rx="2.9" ry="1.9" fill="#b8e6ea"/><ellipse cx="20.8" cy="50.30" rx="2.7" ry="1.7" fill="#9ed6dc"/><circle cx="21.8" cy="48.10" r="0.8" fill="#1c2c50"/><circle cx="19.5" cy="45.70" r="0.8" fill="#f4fafa"/><rect x="4.8" y="53.30" width="8.8" height="8.10" fill="#8fb0aa"/><rect x="4.8" y="53.70" width="8.8" height="1.2" fill="#d6e8e6"/><rect x="4.8" y="57.35" width="8.8" height="1" fill="#d6e8e6"/><rect x="14" y="3" width="5" height="1.8" fill="#8ec4c8"/><rect x="1.1" y="1.5" width="3.7" height="61.2" fill="#e2f1f2"/><rect x="1.1" y="1.5" width="1" height="61.2" fill="#f8fcfc"/><rect x="4.1" y="1.5" width="0.7" height="61.2" fill="#9fc0c0"/><circle cx="1" cy="16.60" r="1.1" fill="#eef6f6"/><circle cx="1" cy="26.40" r="1.1" fill="#eef6f6"/><circle cx="1" cy="36.20" r="1.1" fill="#eef6f6"/><circle cx="1" cy="46.00" r="1.1" fill="#eef6f6"/><rect x="0" y="-1.10" width="17" height="2.4" fill="#dcecec"/><rect x="3" y="-0.10" width="11" height="0.6" fill="#7a9a98"/><rect x="-4" y="-2.85" width="8" height="5.7" rx="2.3" fill="#f3f8f8"/><rect x="13" y="-2.85" width="8" height="5.7" rx="2.3" fill="#f3f8f8"/><rect x="0" y="63.10" width="17" height="2.4" fill="#dcecec"/><rect x="3" y="64.10" width="11" height="0.6" fill="#7a9a98"/><rect x="-4" y="61.35" width="8" height="5.7" rx="2.3" fill="#f3f8f8"/><rect x="13" y="61.35" width="8" height="5.7" rx="2.3" fill="#f3f8f8"/></g>
<g transform="translate(216.3,298.9)"><rect x="4.8" y="2.8" width="8.8" height="58.8" fill="#3f665c"/><rect x="13.6" y="3" width="6" height="9" fill="#1f5a28" opacity="0.5"/><rect x="13.6" y="1.5" width="3.6" height="61.2" fill="#dcedee"/><rect x="16.5" y="1.5" width="0.7" height="61.2" fill="#9fc0c0"/><rect x="4.8" y="2.8" width="8.8" height="2.8" fill="#eef6f6"/><rect x="4.8" y="5.6" width="8.8" height="4.4" fill="#6f928a"/><rect x="4.8" y="7.4" width="8.8" height="0.9" fill="#c0d8d4"/><rect x="4.8" y="10.4" width="8.8" height="6.60" fill="#a9c6c2"/><rect x="4.8" y="10.4" width="8.8" height="1.6" fill="#e6f2f0"/><rect x="4.8" y="17.60" width="8.8" height="5" fill="#eef6f5"/><rect x="5.8" y="18.80" width="6.4" height="2.6" fill="#c4d8d6"/><rect x="4.8" y="23.20" width="8.8" height="4.00" fill="#56796f"/><rect x="4.8" y="24.75" width="8.8" height="0.9" fill="#b2ccc8"/><polygon points="13.6,17.60 17,18.60 24,18.80 24,26.00 17,26.00 13.6,22.60" fill="#2c5a44" opacity="0.55"/><circle cx="15.3" cy="20.10" r="2.5" fill="#e4f2f2"/><circle cx="15.3" cy="20.10" r="1.6" fill="#6aa8b8"/><ellipse cx="20.8" cy="20.20" rx="2.9" ry="1.9" fill="#b8e6ea"/><ellipse cx="20.8" cy="24.40" rx="2.7" ry="1.7" fill="#9ed6dc"/><circle cx="21.8" cy="22.20" r="0.8" fill="#1c2c50"/><circle cx="19.5" cy="19.80" r="0.8" fill="#f4fafa"/><rect x="4.8" y="27.80" width="8.8" height="5" fill="#eef6f5"/><rect x="5.8" y="29.00" width="6.4" height="2.6" fill="#c4d8d6"/><rect x="4.8" y="33.40" width="8.8" height="4.00" fill="#56796f"/><rect x="4.8" y="34.95" width="8.8" height="0.9" fill="#b2ccc8"/><polygon points="13.6,27.80 17,28.80 24,29.00 24,36.20 17,36.20 13.6,32.80" fill="#2c5a44" opacity="0.55"/><circle cx="15.3" cy="30.30" r="2.5" fill="#e4f2f2"/><circle cx="15.3" cy="30.30" r="1.6" fill="#6aa8b8"/><ellipse cx="20.8" cy="30.40" rx="2.9" ry="1.9" fill="#b8e6ea"/><ellipse cx="20.8" cy="34.60" rx="2.7" ry="1.7" fill="#9ed6dc"/><circle cx="21.8" cy="32.40" r="0.8" fill="#1c2c50"/><circle cx="19.5" cy="30.00" r="0.8" fill="#f4fafa"/><rect x="4.8" y="38.00" width="8.8" height="5" fill="#eef6f5"/><rect x="5.8" y="39.20" width="6.4" height="2.6" fill="#c4d8d6"/><rect x="4.8" y="43.60" width="8.8" height="4.00" fill="#56796f"/><rect x="4.8" y="45.15" width="8.8" height="0.9" fill="#b2ccc8"/><polygon points="13.6,38.00 17,39.00 24,39.20 24,46.40 17,46.40 13.6,43.00" fill="#2c5a44" opacity="0.55"/><circle cx="15.3" cy="40.50" r="2.5" fill="#e4f2f2"/><circle cx="15.3" cy="40.50" r="1.6" fill="#6aa8b8"/><ellipse cx="20.8" cy="40.60" rx="2.9" ry="1.9" fill="#b8e6ea"/><ellipse cx="20.8" cy="44.80" rx="2.7" ry="1.7" fill="#9ed6dc"/><circle cx="21.8" cy="42.60" r="0.8" fill="#1c2c50"/><circle cx="19.5" cy="40.20" r="0.8" fill="#f4fafa"/><rect x="4.8" y="48.20" width="8.8" height="5" fill="#eef6f5"/><rect x="5.8" y="49.40" width="6.4" height="2.6" fill="#c4d8d6"/><rect x="4.8" y="53.80" width="8.8" height="4.00" fill="#56796f"/><rect x="4.8" y="55.35" width="8.8" height="0.9" fill="#b2ccc8"/><polygon points="13.6,48.20 17,49.20 24,49.40 24,56.60 17,56.60 13.6,53.20" fill="#2c5a44" opacity="0.55"/><circle cx="15.3" cy="50.70" r="2.5" fill="#e4f2f2"/><circle cx="15.3" cy="50.70" r="1.6" fill="#6aa8b8"/><ellipse cx="20.8" cy="50.80" rx="2.9" ry="1.9" fill="#b8e6ea"/><ellipse cx="20.8" cy="55.00" rx="2.7" ry="1.7" fill="#9ed6dc"/><circle cx="21.8" cy="52.80" r="0.8" fill="#1c2c50"/><circle cx="19.5" cy="50.40" r="0.8" fill="#f4fafa"/><rect x="4.8" y="58.40" width="8.8" height="3.00" fill="#8fb0aa"/><rect x="4.8" y="58.80" width="8.8" height="1.2" fill="#d6e8e6"/><rect x="4.8" y="59.90" width="8.8" height="1" fill="#d6e8e6"/><rect x="14" y="3" width="5" height="1.8" fill="#8ec4c8"/><rect x="1.1" y="1.5" width="3.7" height="61.2" fill="#e2f1f2"/><rect x="1.1" y="1.5" width="1" height="61.2" fill="#f8fcfc"/><rect x="4.1" y="1.5" width="0.7" height="61.2" fill="#9fc0c0"/><circle cx="1" cy="20.10" r="1.1" fill="#eef6f6"/><circle cx="1" cy="30.30" r="1.1" fill="#eef6f6"/><circle cx="1" cy="40.50" r="1.1" fill="#eef6f6"/><circle cx="1" cy="50.70" r="1.1" fill="#eef6f6"/><rect x="0" y="-1.10" width="17" height="2.4" fill="#dcecec"/><rect x="3" y="-0.10" width="11" height="0.6" fill="#7a9a98"/><rect x="-4" y="-2.85" width="8" height="5.7" rx="2.3" fill="#f3f8f8"/><rect x="13" y="-2.85" width="8" height="5.7" rx="2.3" fill="#f3f8f8"/><rect x="0" y="63.10" width="17" height="2.4" fill="#dcecec"/><rect x="3" y="64.10" width="11" height="0.6" fill="#7a9a98"/><rect x="-4" y="61.35" width="8" height="5.7" rx="2.3" fill="#f3f8f8"/><rect x="13" y="61.35" width="8" height="5.7" rx="2.3" fill="#f3f8f8"/></g>
<g transform="translate(486.0,0) scale(-1,1) translate(216.3,298.9)"><rect x="4.8" y="2.8" width="8.8" height="58.8" fill="#3f665c"/><rect x="13.6" y="3" width="6" height="9" fill="#1f5a28" opacity="0.5"/><rect x="13.6" y="1.5" width="3.6" height="61.2" fill="#dcedee"/><rect x="16.5" y="1.5" width="0.7" height="61.2" fill="#9fc0c0"/><rect x="4.8" y="2.8" width="8.8" height="2.8" fill="#eef6f6"/><rect x="4.8" y="5.6" width="8.8" height="4.4" fill="#6f928a"/><rect x="4.8" y="7.4" width="8.8" height="0.9" fill="#c0d8d4"/><rect x="4.8" y="10.4" width="8.8" height="6.60" fill="#a9c6c2"/><rect x="4.8" y="10.4" width="8.8" height="1.6" fill="#e6f2f0"/><rect x="4.8" y="17.60" width="8.8" height="5" fill="#eef6f5"/><rect x="5.8" y="18.80" width="6.4" height="2.6" fill="#c4d8d6"/><rect x="4.8" y="23.20" width="8.8" height="4.00" fill="#56796f"/><rect x="4.8" y="24.75" width="8.8" height="0.9" fill="#b2ccc8"/><polygon points="13.6,17.60 17,18.60 24,18.80 24,26.00 17,26.00 13.6,22.60" fill="#2c5a44" opacity="0.55"/><circle cx="15.3" cy="20.10" r="2.5" fill="#e4f2f2"/><circle cx="15.3" cy="20.10" r="1.6" fill="#6aa8b8"/><ellipse cx="20.8" cy="20.20" rx="2.9" ry="1.9" fill="#b8e6ea"/><ellipse cx="20.8" cy="24.40" rx="2.7" ry="1.7" fill="#9ed6dc"/><circle cx="21.8" cy="22.20" r="0.8" fill="#1c2c50"/><circle cx="19.5" cy="19.80" r="0.8" fill="#f4fafa"/><rect x="4.8" y="27.80" width="8.8" height="5" fill="#eef6f5"/><rect x="5.8" y="29.00" width="6.4" height="2.6" fill="#c4d8d6"/><rect x="4.8" y="33.40" width="8.8" height="4.00" fill="#56796f"/><rect x="4.8" y="34.95" width="8.8" height="0.9" fill="#b2ccc8"/><polygon points="13.6,27.80 17,28.80 24,29.00 24,36.20 17,36.20 13.6,32.80" fill="#2c5a44" opacity="0.55"/><circle cx="15.3" cy="30.30" r="2.5" fill="#e4f2f2"/><circle cx="15.3" cy="30.30" r="1.6" fill="#6aa8b8"/><ellipse cx="20.8" cy="30.40" rx="2.9" ry="1.9" fill="#b8e6ea"/><ellipse cx="20.8" cy="34.60" rx="2.7" ry="1.7" fill="#9ed6dc"/><circle cx="21.8" cy="32.40" r="0.8" fill="#1c2c50"/><circle cx="19.5" cy="30.00" r="0.8" fill="#f4fafa"/><rect x="4.8" y="38.00" width="8.8" height="5" fill="#eef6f5"/><rect x="5.8" y="39.20" width="6.4" height="2.6" fill="#c4d8d6"/><rect x="4.8" y="43.60" width="8.8" height="4.00" fill="#56796f"/><rect x="4.8" y="45.15" width="8.8" height="0.9" fill="#b2ccc8"/><polygon points="13.6,38.00 17,39.00 24,39.20 24,46.40 17,46.40 13.6,43.00" fill="#2c5a44" opacity="0.55"/><circle cx="15.3" cy="40.50" r="2.5" fill="#e4f2f2"/><circle cx="15.3" cy="40.50" r="1.6" fill="#6aa8b8"/><ellipse cx="20.8" cy="40.60" rx="2.9" ry="1.9" fill="#b8e6ea"/><ellipse cx="20.8" cy="44.80" rx="2.7" ry="1.7" fill="#9ed6dc"/><circle cx="21.8" cy="42.60" r="0.8" fill="#1c2c50"/><circle cx="19.5" cy="40.20" r="0.8" fill="#f4fafa"/><rect x="4.8" y="48.20" width="8.8" height="5" fill="#eef6f5"/><rect x="5.8" y="49.40" width="6.4" height="2.6" fill="#c4d8d6"/><rect x="4.8" y="53.80" width="8.8" height="4.00" fill="#56796f"/><rect x="4.8" y="55.35" width="8.8" height="0.9" fill="#b2ccc8"/><polygon points="13.6,48.20 17,49.20 24,49.40 24,56.60 17,56.60 13.6,53.20" fill="#2c5a44" opacity="0.55"/><circle cx="15.3" cy="50.70" r="2.5" fill="#e4f2f2"/><circle cx="15.3" cy="50.70" r="1.6" fill="#6aa8b8"/><ellipse cx="20.8" cy="50.80" rx="2.9" ry="1.9" fill="#b8e6ea"/><ellipse cx="20.8" cy="55.00" rx="2.7" ry="1.7" fill="#9ed6dc"/><circle cx="21.8" cy="52.80" r="0.8" fill="#1c2c50"/><circle cx="19.5" cy="50.40" r="0.8" fill="#f4fafa"/><rect x="4.8" y="58.40" width="8.8" height="3.00" fill="#8fb0aa"/><rect x="4.8" y="58.80" width="8.8" height="1.2" fill="#d6e8e6"/><rect x="4.8" y="59.90" width="8.8" height="1" fill="#d6e8e6"/><rect x="14" y="3" width="5" height="1.8" fill="#8ec4c8"/><rect x="1.1" y="1.5" width="3.7" height="61.2" fill="#e2f1f2"/><rect x="1.1" y="1.5" width="1" height="61.2" fill="#f8fcfc"/><rect x="4.1" y="1.5" width="0.7" height="61.2" fill="#9fc0c0"/><circle cx="1" cy="20.10" r="1.1" fill="#eef6f6"/><circle cx="1" cy="30.30" r="1.1" fill="#eef6f6"/><circle cx="1" cy="40.50" r="1.1" fill="#eef6f6"/><circle cx="1" cy="50.70" r="1.1" fill="#eef6f6"/><rect x="0" y="-1.10" width="17" height="2.4" fill="#dcecec"/><rect x="3" y="-0.10" width="11" height="0.6" fill="#7a9a98"/><rect x="-4" y="-2.85" width="8" height="5.7" rx="2.3" fill="#f3f8f8"/><rect x="13" y="-2.85" width="8" height="5.7" rx="2.3" fill="#f3f8f8"/><rect x="0" y="63.10" width="17" height="2.4" fill="#dcecec"/><rect x="3" y="64.10" width="11" height="0.6" fill="#7a9a98"/><rect x="-4" y="61.35" width="8" height="5.7" rx="2.3" fill="#f3f8f8"/><rect x="13" y="61.35" width="8" height="5.7" rx="2.3" fill="#f3f8f8"/></g>
<g transform="translate(294.4,298.9)"><rect x="4.8" y="2.8" width="8.8" height="58.8" fill="#3f665c"/><rect x="13.6" y="3" width="6" height="9" fill="#1f5a28" opacity="0.5"/><rect x="13.6" y="1.5" width="3.6" height="61.2" fill="#dcedee"/><rect x="16.5" y="1.5" width="0.7" height="61.2" fill="#9fc0c0"/><rect x="4.8" y="2.8" width="8.8" height="2.8" fill="#eef6f6"/><rect x="4.8" y="5.6" width="8.8" height="4.4" fill="#6f928a"/><rect x="4.8" y="7.4" width="8.8" height="0.9" fill="#c0d8d4"/><rect x="4.8" y="10.4" width="8.8" height="6.60" fill="#a9c6c2"/><rect x="4.8" y="10.4" width="8.8" height="1.6" fill="#e6f2f0"/><rect x="4.8" y="17.60" width="8.8" height="5" fill="#eef6f5"/><rect x="5.8" y="18.80" width="6.4" height="2.6" fill="#c4d8d6"/><rect x="4.8" y="23.20" width="8.8" height="4.00" fill="#56796f"/><rect x="4.8" y="24.75" width="8.8" height="0.9" fill="#b2ccc8"/><polygon points="13.6,17.60 17,18.60 24,18.80 24,26.00 17,26.00 13.6,22.60" fill="#2c5a44" opacity="0.55"/><circle cx="15.3" cy="20.10" r="2.5" fill="#e4f2f2"/><circle cx="15.3" cy="20.10" r="1.6" fill="#6aa8b8"/><ellipse cx="20.8" cy="20.20" rx="2.9" ry="1.9" fill="#b8e6ea"/><ellipse cx="20.8" cy="24.40" rx="2.7" ry="1.7" fill="#9ed6dc"/><circle cx="21.8" cy="22.20" r="0.8" fill="#1c2c50"/><circle cx="19.5" cy="19.80" r="0.8" fill="#f4fafa"/><rect x="4.8" y="27.80" width="8.8" height="5" fill="#eef6f5"/><rect x="5.8" y="29.00" width="6.4" height="2.6" fill="#c4d8d6"/><rect x="4.8" y="33.40" width="8.8" height="4.00" fill="#56796f"/><rect x="4.8" y="34.95" width="8.8" height="0.9" fill="#b2ccc8"/><polygon points="13.6,27.80 17,28.80 24,29.00 24,36.20 17,36.20 13.6,32.80" fill="#2c5a44" opacity="0.55"/><circle cx="15.3" cy="30.30" r="2.5" fill="#e4f2f2"/><circle cx="15.3" cy="30.30" r="1.6" fill="#6aa8b8"/><ellipse cx="20.8" cy="30.40" rx="2.9" ry="1.9" fill="#b8e6ea"/><ellipse cx="20.8" cy="34.60" rx="2.7" ry="1.7" fill="#9ed6dc"/><circle cx="21.8" cy="32.40" r="0.8" fill="#1c2c50"/><circle cx="19.5" cy="30.00" r="0.8" fill="#f4fafa"/><rect x="4.8" y="38.00" width="8.8" height="5" fill="#eef6f5"/><rect x="5.8" y="39.20" width="6.4" height="2.6" fill="#c4d8d6"/><rect x="4.8" y="43.60" width="8.8" height="4.00" fill="#56796f"/><rect x="4.8" y="45.15" width="8.8" height="0.9" fill="#b2ccc8"/><polygon points="13.6,38.00 17,39.00 24,39.20 24,46.40 17,46.40 13.6,43.00" fill="#2c5a44" opacity="0.55"/><circle cx="15.3" cy="40.50" r="2.5" fill="#e4f2f2"/><circle cx="15.3" cy="40.50" r="1.6" fill="#6aa8b8"/><ellipse cx="20.8" cy="40.60" rx="2.9" ry="1.9" fill="#b8e6ea"/><ellipse cx="20.8" cy="44.80" rx="2.7" ry="1.7" fill="#9ed6dc"/><circle cx="21.8" cy="42.60" r="0.8" fill="#1c2c50"/><circle cx="19.5" cy="40.20" r="0.8" fill="#f4fafa"/><rect x="4.8" y="48.20" width="8.8" height="5" fill="#eef6f5"/><rect x="5.8" y="49.40" width="6.4" height="2.6" fill="#c4d8d6"/><rect x="4.8" y="53.80" width="8.8" height="4.00" fill="#56796f"/><rect x="4.8" y="55.35" width="8.8" height="0.9" fill="#b2ccc8"/><polygon points="13.6,48.20 17,49.20 24,49.40 24,56.60 17,56.60 13.6,53.20" fill="#2c5a44" opacity="0.55"/><circle cx="15.3" cy="50.70" r="2.5" fill="#e4f2f2"/><circle cx="15.3" cy="50.70" r="1.6" fill="#6aa8b8"/><ellipse cx="20.8" cy="50.80" rx="2.9" ry="1.9" fill="#b8e6ea"/><ellipse cx="20.8" cy="55.00" rx="2.7" ry="1.7" fill="#9ed6dc"/><circle cx="21.8" cy="52.80" r="0.8" fill="#1c2c50"/><circle cx="19.5" cy="50.40" r="0.8" fill="#f4fafa"/><rect x="4.8" y="58.40" width="8.8" height="3.00" fill="#8fb0aa"/><rect x="4.8" y="58.80" width="8.8" height="1.2" fill="#d6e8e6"/><rect x="4.8" y="59.90" width="8.8" height="1" fill="#d6e8e6"/><rect x="14" y="3" width="5" height="1.8" fill="#8ec4c8"/><rect x="1.1" y="1.5" width="3.7" height="61.2" fill="#e2f1f2"/><rect x="1.1" y="1.5" width="1" height="61.2" fill="#f8fcfc"/><rect x="4.1" y="1.5" width="0.7" height="61.2" fill="#9fc0c0"/><circle cx="1" cy="20.10" r="1.1" fill="#eef6f6"/><circle cx="1" cy="30.30" r="1.1" fill="#eef6f6"/><circle cx="1" cy="40.50" r="1.1" fill="#eef6f6"/><circle cx="1" cy="50.70" r="1.1" fill="#eef6f6"/><rect x="0" y="-1.10" width="17" height="2.4" fill="#dcecec"/><rect x="3" y="-0.10" width="11" height="0.6" fill="#7a9a98"/><rect x="-4" y="-2.85" width="8" height="5.7" rx="2.3" fill="#f3f8f8"/><rect x="13" y="-2.85" width="8" height="5.7" rx="2.3" fill="#f3f8f8"/><rect x="0" y="63.10" width="17" height="2.4" fill="#dcecec"/><rect x="3" y="64.10" width="11" height="0.6" fill="#7a9a98"/><rect x="-4" y="61.35" width="8" height="5.7" rx="2.3" fill="#f3f8f8"/><rect x="13" y="61.35" width="8" height="5.7" rx="2.3" fill="#f3f8f8"/></g>
<g transform="translate(641.8,0) scale(-1,1) translate(294.4,298.9)"><rect x="4.8" y="2.8" width="8.8" height="58.8" fill="#3f665c"/><rect x="13.6" y="3" width="6" height="9" fill="#1f5a28" opacity="0.5"/><rect x="13.6" y="1.5" width="3.6" height="61.2" fill="#dcedee"/><rect x="16.5" y="1.5" width="0.7" height="61.2" fill="#9fc0c0"/><rect x="4.8" y="2.8" width="8.8" height="2.8" fill="#eef6f6"/><rect x="4.8" y="5.6" width="8.8" height="4.4" fill="#6f928a"/><rect x="4.8" y="7.4" width="8.8" height="0.9" fill="#c0d8d4"/><rect x="4.8" y="10.4" width="8.8" height="6.60" fill="#a9c6c2"/><rect x="4.8" y="10.4" width="8.8" height="1.6" fill="#e6f2f0"/><rect x="4.8" y="17.60" width="8.8" height="5" fill="#eef6f5"/><rect x="5.8" y="18.80" width="6.4" height="2.6" fill="#c4d8d6"/><rect x="4.8" y="23.20" width="8.8" height="4.00" fill="#56796f"/><rect x="4.8" y="24.75" width="8.8" height="0.9" fill="#b2ccc8"/><polygon points="13.6,17.60 17,18.60 24,18.80 24,26.00 17,26.00 13.6,22.60" fill="#2c5a44" opacity="0.55"/><circle cx="15.3" cy="20.10" r="2.5" fill="#e4f2f2"/><circle cx="15.3" cy="20.10" r="1.6" fill="#6aa8b8"/><ellipse cx="20.8" cy="20.20" rx="2.9" ry="1.9" fill="#b8e6ea"/><ellipse cx="20.8" cy="24.40" rx="2.7" ry="1.7" fill="#9ed6dc"/><circle cx="21.8" cy="22.20" r="0.8" fill="#1c2c50"/><circle cx="19.5" cy="19.80" r="0.8" fill="#f4fafa"/><rect x="4.8" y="27.80" width="8.8" height="5" fill="#eef6f5"/><rect x="5.8" y="29.00" width="6.4" height="2.6" fill="#c4d8d6"/><rect x="4.8" y="33.40" width="8.8" height="4.00" fill="#56796f"/><rect x="4.8" y="34.95" width="8.8" height="0.9" fill="#b2ccc8"/><polygon points="13.6,27.80 17,28.80 24,29.00 24,36.20 17,36.20 13.6,32.80" fill="#2c5a44" opacity="0.55"/><circle cx="15.3" cy="30.30" r="2.5" fill="#e4f2f2"/><circle cx="15.3" cy="30.30" r="1.6" fill="#6aa8b8"/><ellipse cx="20.8" cy="30.40" rx="2.9" ry="1.9" fill="#b8e6ea"/><ellipse cx="20.8" cy="34.60" rx="2.7" ry="1.7" fill="#9ed6dc"/><circle cx="21.8" cy="32.40" r="0.8" fill="#1c2c50"/><circle cx="19.5" cy="30.00" r="0.8" fill="#f4fafa"/><rect x="4.8" y="38.00" width="8.8" height="5" fill="#eef6f5"/><rect x="5.8" y="39.20" width="6.4" height="2.6" fill="#c4d8d6"/><rect x="4.8" y="43.60" width="8.8" height="4.00" fill="#56796f"/><rect x="4.8" y="45.15" width="8.8" height="0.9" fill="#b2ccc8"/><polygon points="13.6,38.00 17,39.00 24,39.20 24,46.40 17,46.40 13.6,43.00" fill="#2c5a44" opacity="0.55"/><circle cx="15.3" cy="40.50" r="2.5" fill="#e4f2f2"/><circle cx="15.3" cy="40.50" r="1.6" fill="#6aa8b8"/><ellipse cx="20.8" cy="40.60" rx="2.9" ry="1.9" fill="#b8e6ea"/><ellipse cx="20.8" cy="44.80" rx="2.7" ry="1.7" fill="#9ed6dc"/><circle cx="21.8" cy="42.60" r="0.8" fill="#1c2c50"/><circle cx="19.5" cy="40.20" r="0.8" fill="#f4fafa"/><rect x="4.8" y="48.20" width="8.8" height="5" fill="#eef6f5"/><rect x="5.8" y="49.40" width="6.4" height="2.6" fill="#c4d8d6"/><rect x="4.8" y="53.80" width="8.8" height="4.00" fill="#56796f"/><rect x="4.8" y="55.35" width="8.8" height="0.9" fill="#b2ccc8"/><polygon points="13.6,48.20 17,49.20 24,49.40 24,56.60 17,56.60 13.6,53.20" fill="#2c5a44" opacity="0.55"/><circle cx="15.3" cy="50.70" r="2.5" fill="#e4f2f2"/><circle cx="15.3" cy="50.70" r="1.6" fill="#6aa8b8"/><ellipse cx="20.8" cy="50.80" rx="2.9" ry="1.9" fill="#b8e6ea"/><ellipse cx="20.8" cy="55.00" rx="2.7" ry="1.7" fill="#9ed6dc"/><circle cx="21.8" cy="52.80" r="0.8" fill="#1c2c50"/><circle cx="19.5" cy="50.40" r="0.8" fill="#f4fafa"/><rect x="4.8" y="58.40" width="8.8" height="3.00" fill="#8fb0aa"/><rect x="4.8" y="58.80" width="8.8" height="1.2" fill="#d6e8e6"/><rect x="4.8" y="59.90" width="8.8" height="1" fill="#d6e8e6"/><rect x="14" y="3" width="5" height="1.8" fill="#8ec4c8"/><rect x="1.1" y="1.5" width="3.7" height="61.2" fill="#e2f1f2"/><rect x="1.1" y="1.5" width="1" height="61.2" fill="#f8fcfc"/><rect x="4.1" y="1.5" width="0.7" height="61.2" fill="#9fc0c0"/><circle cx="1" cy="20.10" r="1.1" fill="#eef6f6"/><circle cx="1" cy="30.30" r="1.1" fill="#eef6f6"/><circle cx="1" cy="40.50" r="1.1" fill="#eef6f6"/><circle cx="1" cy="50.70" r="1.1" fill="#eef6f6"/><rect x="0" y="-1.10" width="17" height="2.4" fill="#dcecec"/><rect x="3" y="-0.10" width="11" height="0.6" fill="#7a9a98"/><rect x="-4" y="-2.85" width="8" height="5.7" rx="2.3" fill="#f3f8f8"/><rect x="13" y="-2.85" width="8" height="5.7" rx="2.3" fill="#f3f8f8"/><rect x="0" y="63.10" width="17" height="2.4" fill="#dcecec"/><rect x="3" y="64.10" width="11" height="0.6" fill="#7a9a98"/><rect x="-4" y="61.35" width="8" height="5.7" rx="2.3" fill="#f3f8f8"/><rect x="13" y="61.35" width="8" height="5.7" rx="2.3" fill="#f3f8f8"/></g>
<g transform="translate(373.6,298.9)"><rect x="4.8" y="2.8" width="8.8" height="58.8" fill="#3f665c"/><rect x="13.6" y="3" width="6" height="9" fill="#1f5a28" opacity="0.5"/><rect x="13.6" y="1.5" width="3.6" height="61.2" fill="#dcedee"/><rect x="16.5" y="1.5" width="0.7" height="61.2" fill="#9fc0c0"/><rect x="4.8" y="2.8" width="8.8" height="2.8" fill="#eef6f6"/><rect x="4.8" y="5.6" width="8.8" height="4.4" fill="#6f928a"/><rect x="4.8" y="7.4" width="8.8" height="0.9" fill="#c0d8d4"/><rect x="4.8" y="10.4" width="8.8" height="6.60" fill="#a9c6c2"/><rect x="4.8" y="10.4" width="8.8" height="1.6" fill="#e6f2f0"/><rect x="4.8" y="17.60" width="8.8" height="5" fill="#eef6f5"/><rect x="5.8" y="18.80" width="6.4" height="2.6" fill="#c4d8d6"/><rect x="4.8" y="23.20" width="8.8" height="4.00" fill="#56796f"/><rect x="4.8" y="24.75" width="8.8" height="0.9" fill="#b2ccc8"/><polygon points="13.6,17.60 17,18.60 24,18.80 24,26.00 17,26.00 13.6,22.60" fill="#2c5a44" opacity="0.55"/><circle cx="15.3" cy="20.10" r="2.5" fill="#e4f2f2"/><circle cx="15.3" cy="20.10" r="1.6" fill="#6aa8b8"/><ellipse cx="20.8" cy="20.20" rx="2.9" ry="1.9" fill="#b8e6ea"/><ellipse cx="20.8" cy="24.40" rx="2.7" ry="1.7" fill="#9ed6dc"/><circle cx="21.8" cy="22.20" r="0.8" fill="#1c2c50"/><circle cx="19.5" cy="19.80" r="0.8" fill="#f4fafa"/><rect x="4.8" y="27.80" width="8.8" height="5" fill="#eef6f5"/><rect x="5.8" y="29.00" width="6.4" height="2.6" fill="#c4d8d6"/><rect x="4.8" y="33.40" width="8.8" height="4.00" fill="#56796f"/><rect x="4.8" y="34.95" width="8.8" height="0.9" fill="#b2ccc8"/><polygon points="13.6,27.80 17,28.80 24,29.00 24,36.20 17,36.20 13.6,32.80" fill="#2c5a44" opacity="0.55"/><circle cx="15.3" cy="30.30" r="2.5" fill="#e4f2f2"/><circle cx="15.3" cy="30.30" r="1.6" fill="#6aa8b8"/><ellipse cx="20.8" cy="30.40" rx="2.9" ry="1.9" fill="#b8e6ea"/><ellipse cx="20.8" cy="34.60" rx="2.7" ry="1.7" fill="#9ed6dc"/><circle cx="21.8" cy="32.40" r="0.8" fill="#1c2c50"/><circle cx="19.5" cy="30.00" r="0.8" fill="#f4fafa"/><rect x="4.8" y="38.00" width="8.8" height="5" fill="#eef6f5"/><rect x="5.8" y="39.20" width="6.4" height="2.6" fill="#c4d8d6"/><rect x="4.8" y="43.60" width="8.8" height="4.00" fill="#56796f"/><rect x="4.8" y="45.15" width="8.8" height="0.9" fill="#b2ccc8"/><polygon points="13.6,38.00 17,39.00 24,39.20 24,46.40 17,46.40 13.6,43.00" fill="#2c5a44" opacity="0.55"/><circle cx="15.3" cy="40.50" r="2.5" fill="#e4f2f2"/><circle cx="15.3" cy="40.50" r="1.6" fill="#6aa8b8"/><ellipse cx="20.8" cy="40.60" rx="2.9" ry="1.9" fill="#b8e6ea"/><ellipse cx="20.8" cy="44.80" rx="2.7" ry="1.7" fill="#9ed6dc"/><circle cx="21.8" cy="42.60" r="0.8" fill="#1c2c50"/><circle cx="19.5" cy="40.20" r="0.8" fill="#f4fafa"/><rect x="4.8" y="48.20" width="8.8" height="5" fill="#eef6f5"/><rect x="5.8" y="49.40" width="6.4" height="2.6" fill="#c4d8d6"/><rect x="4.8" y="53.80" width="8.8" height="4.00" fill="#56796f"/><rect x="4.8" y="55.35" width="8.8" height="0.9" fill="#b2ccc8"/><polygon points="13.6,48.20 17,49.20 24,49.40 24,56.60 17,56.60 13.6,53.20" fill="#2c5a44" opacity="0.55"/><circle cx="15.3" cy="50.70" r="2.5" fill="#e4f2f2"/><circle cx="15.3" cy="50.70" r="1.6" fill="#6aa8b8"/><ellipse cx="20.8" cy="50.80" rx="2.9" ry="1.9" fill="#b8e6ea"/><ellipse cx="20.8" cy="55.00" rx="2.7" ry="1.7" fill="#9ed6dc"/><circle cx="21.8" cy="52.80" r="0.8" fill="#1c2c50"/><circle cx="19.5" cy="50.40" r="0.8" fill="#f4fafa"/><rect x="4.8" y="58.40" width="8.8" height="3.00" fill="#8fb0aa"/><rect x="4.8" y="58.80" width="8.8" height="1.2" fill="#d6e8e6"/><rect x="4.8" y="59.90" width="8.8" height="1" fill="#d6e8e6"/><rect x="14" y="3" width="5" height="1.8" fill="#8ec4c8"/><rect x="1.1" y="1.5" width="3.7" height="61.2" fill="#e2f1f2"/><rect x="1.1" y="1.5" width="1" height="61.2" fill="#f8fcfc"/><rect x="4.1" y="1.5" width="0.7" height="61.2" fill="#9fc0c0"/><circle cx="1" cy="20.10" r="1.1" fill="#eef6f6"/><circle cx="1" cy="30.30" r="1.1" fill="#eef6f6"/><circle cx="1" cy="40.50" r="1.1" fill="#eef6f6"/><circle cx="1" cy="50.70" r="1.1" fill="#eef6f6"/><rect x="0" y="-1.10" width="17" height="2.4" fill="#dcecec"/><rect x="3" y="-0.10" width="11" height="0.6" fill="#7a9a98"/><rect x="-4" y="-2.85" width="8" height="5.7" rx="2.3" fill="#f3f8f8"/><rect x="13" y="-2.85" width="8" height="5.7" rx="2.3" fill="#f3f8f8"/><rect x="0" y="63.10" width="17" height="2.4" fill="#dcecec"/><rect x="3" y="64.10" width="11" height="0.6" fill="#7a9a98"/><rect x="-4" y="61.35" width="8" height="5.7" rx="2.3" fill="#f3f8f8"/><rect x="13" y="61.35" width="8" height="5.7" rx="2.3" fill="#f3f8f8"/></g>
<g transform="translate(800.8,0) scale(-1,1) translate(373.6,298.9)"><rect x="4.8" y="2.8" width="8.8" height="58.8" fill="#3f665c"/><rect x="13.6" y="3" width="6" height="9" fill="#1f5a28" opacity="0.5"/><rect x="13.6" y="1.5" width="3.6" height="61.2" fill="#dcedee"/><rect x="16.5" y="1.5" width="0.7" height="61.2" fill="#9fc0c0"/><rect x="4.8" y="2.8" width="8.8" height="2.8" fill="#eef6f6"/><rect x="4.8" y="5.6" width="8.8" height="4.4" fill="#6f928a"/><rect x="4.8" y="7.4" width="8.8" height="0.9" fill="#c0d8d4"/><rect x="4.8" y="10.4" width="8.8" height="6.60" fill="#a9c6c2"/><rect x="4.8" y="10.4" width="8.8" height="1.6" fill="#e6f2f0"/><rect x="4.8" y="17.60" width="8.8" height="5" fill="#eef6f5"/><rect x="5.8" y="18.80" width="6.4" height="2.6" fill="#c4d8d6"/><rect x="4.8" y="23.20" width="8.8" height="4.00" fill="#56796f"/><rect x="4.8" y="24.75" width="8.8" height="0.9" fill="#b2ccc8"/><polygon points="13.6,17.60 17,18.60 24,18.80 24,26.00 17,26.00 13.6,22.60" fill="#2c5a44" opacity="0.55"/><circle cx="15.3" cy="20.10" r="2.5" fill="#e4f2f2"/><circle cx="15.3" cy="20.10" r="1.6" fill="#6aa8b8"/><ellipse cx="20.8" cy="20.20" rx="2.9" ry="1.9" fill="#b8e6ea"/><ellipse cx="20.8" cy="24.40" rx="2.7" ry="1.7" fill="#9ed6dc"/><circle cx="21.8" cy="22.20" r="0.8" fill="#1c2c50"/><circle cx="19.5" cy="19.80" r="0.8" fill="#f4fafa"/><rect x="4.8" y="27.80" width="8.8" height="5" fill="#eef6f5"/><rect x="5.8" y="29.00" width="6.4" height="2.6" fill="#c4d8d6"/><rect x="4.8" y="33.40" width="8.8" height="4.00" fill="#56796f"/><rect x="4.8" y="34.95" width="8.8" height="0.9" fill="#b2ccc8"/><polygon points="13.6,27.80 17,28.80 24,29.00 24,36.20 17,36.20 13.6,32.80" fill="#2c5a44" opacity="0.55"/><circle cx="15.3" cy="30.30" r="2.5" fill="#e4f2f2"/><circle cx="15.3" cy="30.30" r="1.6" fill="#6aa8b8"/><ellipse cx="20.8" cy="30.40" rx="2.9" ry="1.9" fill="#b8e6ea"/><ellipse cx="20.8" cy="34.60" rx="2.7" ry="1.7" fill="#9ed6dc"/><circle cx="21.8" cy="32.40" r="0.8" fill="#1c2c50"/><circle cx="19.5" cy="30.00" r="0.8" fill="#f4fafa"/><rect x="4.8" y="38.00" width="8.8" height="5" fill="#eef6f5"/><rect x="5.8" y="39.20" width="6.4" height="2.6" fill="#c4d8d6"/><rect x="4.8" y="43.60" width="8.8" height="4.00" fill="#56796f"/><rect x="4.8" y="45.15" width="8.8" height="0.9" fill="#b2ccc8"/><polygon points="13.6,38.00 17,39.00 24,39.20 24,46.40 17,46.40 13.6,43.00" fill="#2c5a44" opacity="0.55"/><circle cx="15.3" cy="40.50" r="2.5" fill="#e4f2f2"/><circle cx="15.3" cy="40.50" r="1.6" fill="#6aa8b8"/><ellipse cx="20.8" cy="40.60" rx="2.9" ry="1.9" fill="#b8e6ea"/><ellipse cx="20.8" cy="44.80" rx="2.7" ry="1.7" fill="#9ed6dc"/><circle cx="21.8" cy="42.60" r="0.8" fill="#1c2c50"/><circle cx="19.5" cy="40.20" r="0.8" fill="#f4fafa"/><rect x="4.8" y="48.20" width="8.8" height="5" fill="#eef6f5"/><rect x="5.8" y="49.40" width="6.4" height="2.6" fill="#c4d8d6"/><rect x="4.8" y="53.80" width="8.8" height="4.00" fill="#56796f"/><rect x="4.8" y="55.35" width="8.8" height="0.9" fill="#b2ccc8"/><polygon points="13.6,48.20 17,49.20 24,49.40 24,56.60 17,56.60 13.6,53.20" fill="#2c5a44" opacity="0.55"/><circle cx="15.3" cy="50.70" r="2.5" fill="#e4f2f2"/><circle cx="15.3" cy="50.70" r="1.6" fill="#6aa8b8"/><ellipse cx="20.8" cy="50.80" rx="2.9" ry="1.9" fill="#b8e6ea"/><ellipse cx="20.8" cy="55.00" rx="2.7" ry="1.7" fill="#9ed6dc"/><circle cx="21.8" cy="52.80" r="0.8" fill="#1c2c50"/><circle cx="19.5" cy="50.40" r="0.8" fill="#f4fafa"/><rect x="4.8" y="58.40" width="8.8" height="3.00" fill="#8fb0aa"/><rect x="4.8" y="58.80" width="8.8" height="1.2" fill="#d6e8e6"/><rect x="4.8" y="59.90" width="8.8" height="1" fill="#d6e8e6"/><rect x="14" y="3" width="5" height="1.8" fill="#8ec4c8"/><rect x="1.1" y="1.5" width="3.7" height="61.2" fill="#e2f1f2"/><rect x="1.1" y="1.5" width="1" height="61.2" fill="#f8fcfc"/><rect x="4.1" y="1.5" width="0.7" height="61.2" fill="#9fc0c0"/><circle cx="1" cy="20.10" r="1.1" fill="#eef6f6"/><circle cx="1" cy="30.30" r="1.1" fill="#eef6f6"/><circle cx="1" cy="40.50" r="1.1" fill="#eef6f6"/><circle cx="1" cy="50.70" r="1.1" fill="#eef6f6"/><rect x="0" y="-1.10" width="17" height="2.4" fill="#dcecec"/><rect x="3" y="-0.10" width="11" height="0.6" fill="#7a9a98"/><rect x="-4" y="-2.85" width="8" height="5.7" rx="2.3" fill="#f3f8f8"/><rect x="13" y="-2.85" width="8" height="5.7" rx="2.3" fill="#f3f8f8"/><rect x="0" y="63.10" width="17" height="2.4" fill="#dcecec"/><rect x="3" y="64.10" width="11" height="0.6" fill="#7a9a98"/><rect x="-4" y="61.35" width="8" height="5.7" rx="2.3" fill="#f3f8f8"/><rect x="13" y="61.35" width="8" height="5.7" rx="2.3" fill="#f3f8f8"/></g>
<rect x="237.00" y="302.00" width="4.00" height="11.50" fill="#e4f1f0" />
<rect x="242.60" y="302.00" width="3.70" height="11.50" fill="#e4f1f0" />
<rect x="237.00" y="302.00" width="1.00" height="11.50" fill="#f8fcfc" />
<rect x="242.60" y="302.00" width="1.00" height="11.50" fill="#f8fcfc" />
<rect x="314.90" y="302.00" width="4.00" height="11.50" fill="#e4f1f0" />
<rect x="320.50" y="302.00" width="3.70" height="11.50" fill="#e4f1f0" />
<rect x="314.90" y="302.00" width="1.00" height="11.50" fill="#f8fcfc" />
<rect x="320.50" y="302.00" width="1.00" height="11.50" fill="#f8fcfc" />
<rect x="394.40" y="302.00" width="4.00" height="11.50" fill="#e4f1f0" />
<rect x="400.00" y="302.00" width="3.70" height="11.50" fill="#e4f1f0" />
<rect x="394.40" y="302.00" width="1.00" height="11.50" fill="#f8fcfc" />
<rect x="400.00" y="302.00" width="1.00" height="11.50" fill="#f8fcfc" />
<rect x="316.40" y="237.50" width="4.10" height="12.00" fill="#e4f1f0" />
<rect x="322.00" y="237.50" width="4.10" height="12.00" fill="#e4f1f0" />
<rect x="316.40" y="237.50" width="1.00" height="12.00" fill="#f8fcfc" />
<rect x="322.00" y="237.50" width="1.00" height="12.00" fill="#f8fcfc" />
<rect x="395.40" y="237.50" width="4.10" height="12.00" fill="#e4f1f0" />
<rect x="401.00" y="237.50" width="4.10" height="12.00" fill="#e4f1f0" />
<rect x="395.40" y="237.50" width="1.00" height="12.00" fill="#f8fcfc" />
<rect x="401.00" y="237.50" width="1.00" height="12.00" fill="#f8fcfc" />
<g fill="#eef4ef" font-size="3.6">
<text x="214" y="262.5">印刷机组</text>
<text x="291.5" y="262.5">印刷机组</text>
<text x="370.5" y="262.5">印刷机组</text>
<text x="214" y="292">印刷机组</text>
<text x="291.5" y="292">印刷机组</text>
<text x="370.5" y="292">印刷机组</text>
</g>
<g fill="#e6f0ea" font-size="3.6"><text x="330" y="148.8">洗板车间</text><text x="414.3" y="148.8">洗板车间</text></g>
<circle cx="446.5" cy="382.5" r="1.8" fill="#d03060"/><circle cx="446.8" cy="384.5" r="1.5" fill="#e8e8f0"/><rect x="443" y="381" width="1.5" height="3" fill="#1a3a1a"/>
<rect x="256.50" y="279.00" width="5.00" height="2.60" fill="#e8c090" />
<rect x="452.20" y="233.50" width="7" height="141.00" fill="url(#rshadow)"/>
<rect x="459.20" y="232.50" width="4.00" height="141.00" fill="#2f48b8" />
<rect x="459.60" y="232.50" width="0.80" height="141.00" fill="#5070e0" />
<line x1="461.40" y1="232.50" x2="461.40" y2="373.50" stroke="#c8d4f4" stroke-width="1" stroke-dasharray="3.4 3"/>
<rect x="463.20" y="232.50" width="10.90" height="141.00" fill="#dfecea" />
<rect x="465.00" y="232.50" width="1.6" height="141.00" fill="#eef6f5"/>
<rect x="470.45" y="232.50" width="1.6" height="141.00" fill="#eef6f5"/>
<g stroke="#52607a" stroke-width="0.9">
<line x1="463.20" y1="232.50" x2="474.10" y2="232.50"/>
<line x1="463.20" y1="238.93" x2="474.10" y2="238.93"/>
<line x1="463.20" y1="245.36" x2="474.10" y2="245.36"/>
<line x1="463.20" y1="251.79" x2="474.10" y2="251.79"/>
<line x1="463.20" y1="258.22" x2="474.10" y2="258.22"/>
<line x1="463.20" y1="264.65" x2="474.10" y2="264.65"/>
<line x1="463.20" y1="271.08" x2="474.10" y2="271.08"/>
<line x1="463.20" y1="277.51" x2="474.10" y2="277.51"/>
<line x1="463.20" y1="283.94" x2="474.10" y2="283.94"/>
<line x1="463.20" y1="290.37" x2="474.10" y2="290.37"/>
<line x1="463.20" y1="296.80" x2="474.10" y2="296.80"/>
<line x1="463.20" y1="303.23" x2="474.10" y2="303.23"/>
<line x1="463.20" y1="309.66" x2="474.10" y2="309.66"/>
<line x1="463.20" y1="316.09" x2="474.10" y2="316.09"/>
<line x1="463.20" y1="322.52" x2="474.10" y2="322.52"/>
<line x1="463.20" y1="328.95" x2="474.10" y2="328.95"/>
<line x1="463.20" y1="335.38" x2="474.10" y2="335.38"/>
<line x1="463.20" y1="341.81" x2="474.10" y2="341.81"/>
<line x1="463.20" y1="348.24" x2="474.10" y2="348.24"/>
<line x1="463.20" y1="354.67" x2="474.10" y2="354.67"/>
<line x1="463.20" y1="361.10" x2="474.10" y2="361.10"/>
<line x1="463.20" y1="367.53" x2="474.10" y2="367.53"/>
</g><g stroke="#7d8a9c" stroke-width="0.7">
<line x1="468.65" y1="232.50" x2="468.65" y2="373.50"/>
<line x1="474.10" y1="232.50" x2="474.10" y2="373.50"/>
</g>
<rect x="481.60" y="233.50" width="7" height="141.00" fill="url(#rshadow)"/>
<rect x="488.60" y="232.50" width="4.00" height="141.00" fill="#2f48b8" />
<rect x="489.00" y="232.50" width="0.80" height="141.00" fill="#5070e0" />
<line x1="490.80" y1="232.50" x2="490.80" y2="373.50" stroke="#c8d4f4" stroke-width="1" stroke-dasharray="3.4 3"/>
<rect x="492.60" y="232.50" width="23.60" height="141.00" fill="#dfecea" />
<rect x="494.40" y="232.50" width="1.6" height="141.00" fill="#eef6f5"/>
<rect x="499.85" y="232.50" width="1.6" height="141.00" fill="#eef6f5"/>
<rect x="503.50" y="232.50" width="1.80" height="141.00" fill="#1626a0" />
<rect x="507.10" y="232.50" width="1.6" height="141.00" fill="#eef6f5"/>
<rect x="512.55" y="232.50" width="1.6" height="141.00" fill="#eef6f5"/>
<g stroke="#52607a" stroke-width="0.9">
<line x1="492.60" y1="232.50" x2="516.20" y2="232.50"/>
<line x1="492.60" y1="238.93" x2="516.20" y2="238.93"/>
<line x1="492.60" y1="245.36" x2="516.20" y2="245.36"/>
<line x1="492.60" y1="251.79" x2="516.20" y2="251.79"/>
<line x1="492.60" y1="258.22" x2="516.20" y2="258.22"/>
<line x1="492.60" y1="264.65" x2="516.20" y2="264.65"/>
<line x1="492.60" y1="271.08" x2="516.20" y2="271.08"/>
<line x1="492.60" y1="277.51" x2="516.20" y2="277.51"/>
<line x1="492.60" y1="283.94" x2="516.20" y2="283.94"/>
<line x1="492.60" y1="290.37" x2="516.20" y2="290.37"/>
<line x1="492.60" y1="296.80" x2="516.20" y2="296.80"/>
<line x1="492.60" y1="303.23" x2="516.20" y2="303.23"/>
<line x1="492.60" y1="309.66" x2="516.20" y2="309.66"/>
<line x1="492.60" y1="316.09" x2="516.20" y2="316.09"/>
<line x1="492.60" y1="322.52" x2="516.20" y2="322.52"/>
<line x1="492.60" y1="328.95" x2="516.20" y2="328.95"/>
<line x1="492.60" y1="335.38" x2="516.20" y2="335.38"/>
<line x1="492.60" y1="341.81" x2="516.20" y2="341.81"/>
<line x1="492.60" y1="348.24" x2="516.20" y2="348.24"/>
<line x1="492.60" y1="354.67" x2="516.20" y2="354.67"/>
<line x1="492.60" y1="361.10" x2="516.20" y2="361.10"/>
<line x1="492.60" y1="367.53" x2="516.20" y2="367.53"/>
</g><g stroke="#7d8a9c" stroke-width="0.7">
<line x1="498.05" y1="232.50" x2="498.05" y2="373.50"/>
<line x1="503.50" y1="232.50" x2="503.50" y2="373.50"/>
<line x1="510.75" y1="232.50" x2="510.75" y2="373.50"/>
<line x1="516.20" y1="232.50" x2="516.20" y2="373.50"/>
</g>
<rect x="522.60" y="233.50" width="7" height="141.00" fill="url(#rshadow)"/>
<rect x="529.60" y="232.50" width="4.00" height="141.00" fill="#2f48b8" />
<rect x="530.00" y="232.50" width="0.80" height="141.00" fill="#5070e0" />
<line x1="531.80" y1="232.50" x2="531.80" y2="373.50" stroke="#c8d4f4" stroke-width="1" stroke-dasharray="3.4 3"/>
<rect x="533.60" y="232.50" width="10.90" height="141.00" fill="#dfecea" />
<rect x="535.40" y="232.50" width="1.6" height="141.00" fill="#eef6f5"/>
<rect x="540.85" y="232.50" width="1.6" height="141.00" fill="#eef6f5"/>
<g stroke="#52607a" stroke-width="0.9">
<line x1="533.60" y1="232.50" x2="544.50" y2="232.50"/>
<line x1="533.60" y1="238.93" x2="544.50" y2="238.93"/>
<line x1="533.60" y1="245.36" x2="544.50" y2="245.36"/>
<line x1="533.60" y1="251.79" x2="544.50" y2="251.79"/>
<line x1="533.60" y1="258.22" x2="544.50" y2="258.22"/>
<line x1="533.60" y1="264.65" x2="544.50" y2="264.65"/>
<line x1="533.60" y1="271.08" x2="544.50" y2="271.08"/>
<line x1="533.60" y1="277.51" x2="544.50" y2="277.51"/>
<line x1="533.60" y1="283.94" x2="544.50" y2="283.94"/>
<line x1="533.60" y1="290.37" x2="544.50" y2="290.37"/>
<line x1="533.60" y1="296.80" x2="544.50" y2="296.80"/>
<line x1="533.60" y1="303.23" x2="544.50" y2="303.23"/>
<line x1="533.60" y1="309.66" x2="544.50" y2="309.66"/>
<line x1="533.60" y1="316.09" x2="544.50" y2="316.09"/>
<line x1="533.60" y1="322.52" x2="544.50" y2="322.52"/>
<line x1="533.60" y1="328.95" x2="544.50" y2="328.95"/>
<line x1="533.60" y1="335.38" x2="544.50" y2="335.38"/>
<line x1="533.60" y1="341.81" x2="544.50" y2="341.81"/>
<line x1="533.60" y1="348.24" x2="544.50" y2="348.24"/>
<line x1="533.60" y1="354.67" x2="544.50" y2="354.67"/>
<line x1="533.60" y1="361.10" x2="544.50" y2="361.10"/>
<line x1="533.60" y1="367.53" x2="544.50" y2="367.53"/>
</g><g stroke="#7d8a9c" stroke-width="0.7">
<line x1="539.05" y1="232.50" x2="539.05" y2="373.50"/>
<line x1="544.50" y1="232.50" x2="544.50" y2="373.50"/>
</g>
<polygon points="335.4,133 337.5,129 340.3,128.5 340.3,135 337,135.5" fill="#1c2626"/>
<rect x="336.30" y="135.00" width="1.20" height="5.00" fill="#1c2626" />
<rect x="335.00" y="138.50" width="3.50" height="1.00" fill="#1c2626" />
<rect x="340.30" y="128.00" width="4.50" height="6.80" fill="#eef4f4" />
<rect x="340.30" y="128.00" width="1.00" height="6.80" fill="#b8d0d0" />
<rect x="344.80" y="131.20" width="8.50" height="3.00" fill="#203030" />
<rect x="346.00" y="132.00" width="1.50" height="1.40" fill="#4a6060" />
<rect x="349.00" y="132.00" width="1.50" height="1.40" fill="#4a6060" />
<rect x="358.70" y="125.40" width="26.00" height="13.90" fill="#a8c4d4" />
<rect x="359.50" y="126.20" width="24.40" height="11.40" fill="#eef6f8" />
<rect x="359.50" y="137.60" width="24.40" height="1.60" fill="#4a5a50" />
<rect x="361.00" y="130.80" width="21.40" height="1.30" fill="#1e2e3a" />
<rect x="360.00" y="130.00" width="1.50" height="3.00" fill="#1e2e3a" />
<rect x="382.00" y="130.00" width="1.50" height="3.00" fill="#1e2e3a" />
<rect x="361.20" y="127.20" width="6.20" height="2.40" fill="#c4d8e8" />
<rect x="361.20" y="133.60" width="6.20" height="2.40" fill="#c4d8e8" />
<rect x="368.80" y="127.20" width="6.20" height="2.40" fill="#c4d8e8" />
<rect x="368.80" y="133.60" width="6.20" height="2.40" fill="#c4d8e8" />
<rect x="376.40" y="127.20" width="6.20" height="2.40" fill="#c4d8e8" />
<rect x="376.40" y="133.60" width="6.20" height="2.40" fill="#c4d8e8" />
<polygon points="418.9,133 421.0,129 423.8,128.5 423.8,135 420.5,135.5" fill="#1c2626"/>
<rect x="419.80" y="135.00" width="1.20" height="5.00" fill="#1c2626" />
<rect x="418.50" y="138.50" width="3.50" height="1.00" fill="#1c2626" />
<rect x="423.80" y="128.00" width="4.50" height="6.80" fill="#eef4f4" />
<rect x="423.80" y="128.00" width="1.00" height="6.80" fill="#b8d0d0" />
<rect x="428.30" y="131.20" width="8.50" height="3.00" fill="#203030" />
<rect x="429.50" y="132.00" width="1.50" height="1.40" fill="#4a6060" />
<rect x="432.50" y="132.00" width="1.50" height="1.40" fill="#4a6060" />
<rect x="442.20" y="125.40" width="26.00" height="13.90" fill="#a8c4d4" />
<rect x="443.00" y="126.20" width="24.40" height="11.40" fill="#eef6f8" />
<rect x="443.00" y="137.60" width="24.40" height="1.60" fill="#4a5a50" />
<rect x="444.50" y="130.80" width="21.40" height="1.30" fill="#1e2e3a" />
<rect x="443.50" y="130.00" width="1.50" height="3.00" fill="#1e2e3a" />
<rect x="465.50" y="130.00" width="1.50" height="3.00" fill="#1e2e3a" />
<rect x="444.70" y="127.20" width="6.20" height="2.40" fill="#c4d8e8" />
<rect x="444.70" y="133.60" width="6.20" height="2.40" fill="#c4d8e8" />
<rect x="452.30" y="127.20" width="6.20" height="2.40" fill="#c4d8e8" />
<rect x="452.30" y="133.60" width="6.20" height="2.40" fill="#c4d8e8" />
<rect x="459.90" y="127.20" width="6.20" height="2.40" fill="#c4d8e8" />
<rect x="459.90" y="133.60" width="6.20" height="2.40" fill="#c4d8e8" />
<rect x="491.90" y="114.00" width="14.10" height="39.00" fill="#2c6a32" />
<polygon points="478.8,157.4 481.8,153 512.3,153 512.3,156.5 481.5,157.4" fill="#e4eeee"/>
<rect x="481.50" y="156.30" width="30.80" height="1.10" fill="#b4cccc" />
<rect x="486.80" y="111.10" width="5.10" height="45.00" fill="#e6f0f0" />
<rect x="486.80" y="111.10" width="1.00" height="45.00" fill="#f8fbfb" />
<rect x="491.00" y="111.10" width="0.90" height="42.00" fill="#b8d0d2" />
<polygon points="506,111.7 512.3,111.7 512.3,142.5 506,145.8" fill="#e4eeee"/>
<polygon points="506,111.7 507.6,111.7 507.6,145 506,145.8" fill="#a9c3c7"/>
<polygon points="506,148.2 512.3,146.8 512.3,153 506,153" fill="#e4eeee"/>
<rect x="506.00" y="148.20" width="1.50" height="4.80" fill="#a9c3c7" />
<circle cx="494.1" cy="116.8" r="2.3" fill="#2641c0"/>
<circle cx="494.6" cy="116.2" r="1.1" fill="#5f82ee"/>
<circle cx="499.2" cy="116.8" r="2.3" fill="#2641c0"/>
<circle cx="499.7" cy="116.2" r="1.1" fill="#5f82ee"/>
<circle cx="494.1" cy="121.5" r="2.3" fill="#2641c0"/>
<circle cx="494.6" cy="120.9" r="1.1" fill="#5f82ee"/>
<circle cx="499.2" cy="121.5" r="2.3" fill="#2641c0"/>
<circle cx="499.7" cy="120.9" r="1.1" fill="#5f82ee"/>
<circle cx="494.1" cy="126.2" r="2.3" fill="#2641c0"/>
<circle cx="494.6" cy="125.6" r="1.1" fill="#5f82ee"/>
<circle cx="499.2" cy="126.2" r="2.3" fill="#2641c0"/>
<circle cx="499.7" cy="125.6" r="1.1" fill="#5f82ee"/>
<circle cx="494.1" cy="130.8" r="2.3" fill="#2641c0"/>
<circle cx="494.6" cy="130.2" r="1.1" fill="#5f82ee"/>
<circle cx="499.2" cy="130.8" r="2.3" fill="#2641c0"/>
<circle cx="499.7" cy="130.2" r="1.1" fill="#5f82ee"/>
<circle cx="494.1" cy="135.5" r="2.3" fill="#2641c0"/>
<circle cx="494.6" cy="134.9" r="1.1" fill="#5f82ee"/>
<circle cx="499.2" cy="135.5" r="2.3" fill="#2641c0"/>
<circle cx="499.7" cy="134.9" r="1.1" fill="#5f82ee"/>
<circle cx="494.1" cy="140.2" r="2.3" fill="#2641c0"/>
<circle cx="494.6" cy="139.6" r="1.1" fill="#5f82ee"/>
<circle cx="499.2" cy="140.2" r="2.3" fill="#2641c0"/>
<circle cx="499.7" cy="139.6" r="1.1" fill="#5f82ee"/>
<circle cx="494.1" cy="144.9" r="2.3" fill="#2641c0"/>
<circle cx="494.6" cy="144.3" r="1.1" fill="#5f82ee"/>
<circle cx="499.2" cy="144.9" r="2.3" fill="#2641c0"/>
<circle cx="499.7" cy="144.3" r="1.1" fill="#5f82ee"/>
<circle cx="494.1" cy="149.6" r="2.3" fill="#2641c0"/>
<circle cx="494.6" cy="149.0" r="1.1" fill="#5f82ee"/>
<circle cx="499.2" cy="149.6" r="2.3" fill="#2641c0"/>
<circle cx="499.7" cy="149.0" r="1.1" fill="#5f82ee"/>
<rect x="501.80" y="132.60" width="2.20" height="8.50" fill="#c8e0d8" opacity="0.8"/>
<rect x="502.20" y="134.00" width="1.40" height="1.00" fill="#3a6a50" />
<rect x="502.20" y="137.00" width="1.40" height="1.00" fill="#3a6a50" />
<rect x="514.00" y="115.60" width="5.80" height="4.60" fill="#9a88a0" />
<text x="0" y="0" transform="translate(521,131.5) rotate(90)" font-size="3.6" fill="#d8ecea">调墨区</text>
<rect x="540.50" y="114.00" width="3.70" height="276.00" fill="url(#lshadow)" transform="translate(1084.7,0) scale(-1,1)"/>
<ellipse cx="533.8" cy="117.9" rx="2.7" ry="2.5" fill="#1c4020"/>
<ellipse cx="533.8" cy="117.9" rx="2.2" ry="2" fill="#dcedf0"/>
<rect x="536.70" y="115.50" width="6.50" height="1.80" fill="#b8dcc8" />
<rect x="537.20" y="118.20" width="4.00" height="0.70" fill="#8ab8a0" />
<ellipse cx="533.8" cy="124.9" rx="2.7" ry="2.5" fill="#1c4020"/>
<ellipse cx="533.8" cy="124.9" rx="2.2" ry="2" fill="#dcedf0"/>
<rect x="536.70" y="122.52" width="6.50" height="1.80" fill="#b8dcc8" />
<rect x="537.20" y="125.22" width="4.00" height="0.70" fill="#8ab8a0" />
<ellipse cx="533.8" cy="131.9" rx="2.7" ry="2.5" fill="#1c4020"/>
<ellipse cx="533.8" cy="131.9" rx="2.2" ry="2" fill="#dcedf0"/>
<rect x="536.70" y="129.54" width="6.50" height="1.80" fill="#b8dcc8" />
<rect x="537.20" y="132.24" width="4.00" height="0.70" fill="#8ab8a0" />
<ellipse cx="533.8" cy="139.0" rx="2.7" ry="2.5" fill="#1c4020"/>
<ellipse cx="533.8" cy="139.0" rx="2.2" ry="2" fill="#dcedf0"/>
<rect x="536.70" y="136.56" width="6.50" height="1.80" fill="#b8dcc8" />
<rect x="537.20" y="139.26" width="4.00" height="0.70" fill="#8ab8a0" />
<ellipse cx="533.8" cy="146.0" rx="2.7" ry="2.5" fill="#1c4020"/>
<ellipse cx="533.8" cy="146.0" rx="2.2" ry="2" fill="#dcedf0"/>
<rect x="536.70" y="143.58" width="6.50" height="1.80" fill="#b8dcc8" />
<rect x="537.20" y="146.28" width="4.00" height="0.70" fill="#8ab8a0" />
<ellipse cx="533.8" cy="153.0" rx="2.7" ry="2.5" fill="#1c4020"/>
<ellipse cx="533.8" cy="153.0" rx="2.2" ry="2" fill="#dcedf0"/>
<rect x="536.70" y="150.60" width="6.50" height="1.80" fill="#b8dcc8" />
<rect x="537.20" y="153.30" width="4.00" height="0.70" fill="#8ab8a0" />
<polygon points="486,170.5 492.2,169 492.2,211 550.8,211 550.8,213.8 486,213.8" fill="#e2eeee"/>
<rect x="486.00" y="170.50" width="1.20" height="43.30" fill="#f6fafa" />
<rect x="491.20" y="171.50" width="1.00" height="39.50" fill="#b2cccc" />
<polygon points="492.2,171.5 512.8,171.5 512.8,179.4 508,179.4 506.1,174.6 492.2,174.6" fill="#e2eeee"/>
<rect x="506.10" y="174.60" width="2.00" height="4.80" fill="#a9c6c8" />
<polygon points="508,183.7 512.8,182.8 512.8,211 508,211" fill="#e2eeee"/>
<rect x="508.00" y="183.70" width="1.00" height="27.30" fill="#b2cccc" />
<rect x="500.00" y="177.00" width="3.00" height="8.50" fill="#d8ecea" />
<rect x="500.60" y="178.50" width="1.80" height="1.20" fill="#6a9a98" />
<rect x="500.60" y="181.50" width="1.80" height="1.20" fill="#6a9a98" />
<rect x="503.00" y="186.70" width="3.10" height="23.10" fill="#4a3a28" />
<rect x="506.10" y="186.70" width="3.70" height="23.10" fill="#ecdcb4" />
<rect x="506.10" y="189.20" width="3.70" height="0.70" fill="#b8a070" />
<rect x="506.10" y="192.40" width="3.70" height="0.70" fill="#b8a070" />
<rect x="506.10" y="195.60" width="3.70" height="0.70" fill="#b8a070" />
<rect x="506.10" y="198.80" width="3.70" height="0.70" fill="#b8a070" />
<rect x="506.10" y="202.00" width="3.70" height="0.70" fill="#b8a070" />
<rect x="506.10" y="205.20" width="3.70" height="0.70" fill="#b8a070" />
<rect x="506.10" y="208.40" width="3.70" height="0.70" fill="#b8a070" />
<rect x="515.50" y="169.70" width="4.60" height="15.80" fill="#2a5a30" opacity="0.6"/>
<rect x="520.10" y="169.70" width="6.70" height="15.80" fill="#6f8894" />
<ellipse cx="536" cy="170" rx="4.2" ry="3.3" fill="#e8f0f2"/>
<rect x="539.50" y="167.50" width="3.80" height="5.00" fill="#e89a60" />
<circle cx="535.5" cy="169.5" r="1.4" fill="#5080a0"/>
<ellipse cx="536" cy="184" rx="4.2" ry="3.3" fill="#e8f0f2"/>
<rect x="539.50" y="181.50" width="3.80" height="5.00" fill="#e89a60" />
<circle cx="535.5" cy="183.5" r="1.4" fill="#5080a0"/>
<rect x="527.40" y="204.30" width="8.50" height="3.70" fill="#f0b08a" />
<rect x="516.50" y="197.00" width="4.80" height="12.80" fill="#e2eef0" />
<rect x="517.70" y="200.50" width="2.40" height="5.00" fill="#203a3a" />
<rect x="544.20" y="109.80" width="8.30" height="283.70" fill="url(#rwall)" />
<polygon points="544.2,109.8 552.5,109.8 544.2,114" fill="#e3ebeb"/>
<g font-size="8.5" fill="#222" stroke="#222" stroke-width="0.12" text-anchor="middle">
<text x="142.5" y="87.1" font-size="8.1">复检区块</text>
<text x="141.8" y="97.4">Printing Machine Block</text>
<text x="477.8" y="87.1" font-size="8.1">洗版机区块</text>
<text x="477.2" y="97.4">Printing Machine Block</text>
<text x="44" y="155.6" font-size="8.1">原纸仓储</text>
<text x="44" y="164.9">Raw</text>
<text x="44" y="174">paper storage</text>
<text x="40.3" y="297.1" font-size="8.1">成品仓储</text>
<text x="40.8" y="306.6">Finished</text>
<text x="40.7" y="315.2">product storage</text>
<text x="603.8" y="138.7" font-size="8.1">调墨试样研发区块</text>
<text x="604.3" y="148.3">Intelligent vertical library</text>
<text x="604.3" y="157.6">of plate roller</text>
<text x="605.8" y="284.7" font-size="8.1">版辊筒易库</text>
<text x="605.7" y="293.6">Intelligent vertical library</text>
<text x="606.1" y="302.8">of plate roller</text>
<text x="406.8" y="409.2" font-size="8.1">印刷机区块</text>
<text x="406.7" y="419.5">Printing Machine Block</text>
</g>
<g stroke-width="0.8" fill="none">
<polyline points="97.5,101.5 184.2,101.5" stroke="#6a6a6a" stroke-width="0.9"/>
<polyline points="184.2,101.5 243.3,180.5" stroke="#4a2418" stroke-width="1"/>
<polyline points="521,101.5 435,101.5" stroke="#c4c4c4" stroke-width="0.9"/>
<polyline points="435,101.5 414,128" stroke="#3a2a20" stroke-width="0.95"/>
<polyline points="17.4,180.5 102.5,180.5" stroke="#5a5a5a" stroke-width="0.9"/>
<polyline points="11,321.5 102.5,321.5" stroke="#7a7a7a" stroke-width="0.9"/>
<polyline points="528,162.5 650.7,162.5" stroke="#4a4a4a" stroke-width="0.9"/>
<polyline points="523,308.5 645,308.5" stroke="#4a4a4a" stroke-width="0.9"/>
<polyline points="453.5,424.5 362.4,424.5" stroke="#b0b0b0" stroke-width="0.9"/>
<polyline points="362.4,424.5 320.8,367.4" stroke="#3a2a20" stroke-width="0.95"/>
</g>
</svg>
</body></html>
